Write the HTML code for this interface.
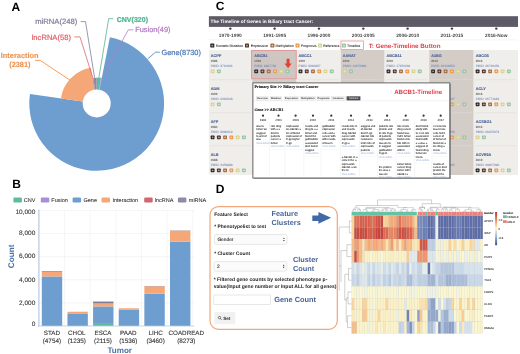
<!DOCTYPE html>
<html><head><meta charset="utf-8"><style>html,body{margin:0;padding:0;background:#fff;}svg{display:block;will-change:transform;}</style></head>
<body><svg width="520" height="354" viewBox="0 0 520 354" font-family="Liberation Sans, sans-serif" text-rendering="geometricPrecision">
<rect width="520" height="354" fill="#fff"/>
<text x="11.60" y="10.70" font-size="12" fill="#000" font-weight="bold" text-anchor="start" font-family="Liberation Sans" >A</text>
<text x="12.20" y="187.80" font-size="12" fill="#000" font-weight="bold" text-anchor="start" font-family="Liberation Sans" >B</text>
<text x="215.80" y="10.20" font-size="12" fill="#000" font-weight="bold" text-anchor="start" font-family="Liberation Sans" >C</text>
<text x="215.80" y="193.10" font-size="12" fill="#000" font-weight="bold" text-anchor="start" font-family="Liberation Sans" >D</text>
<path d="M96.70,103.40 L96.70,77.42 A25.98,25.98 0 0 1 101.11,77.80 Z" fill="#5dbb9f"/>
<path d="M96.70,103.40 L100.88,79.12 A24.64,24.64 0 0 1 101.52,79.23 Z" fill="#a98fd3"/>
<path d="M96.70,103.40 L109.87,37.30 A67.40,67.40 0 1 1 29.94,94.11 Z" fill="#6d9ecf"/>
<path d="M96.70,103.40 L60.92,98.42 A36.13,36.13 0 0 1 90.83,67.75 Z" fill="#f6a778"/>
<path d="M96.70,103.40 L92.69,79.04 A24.69,24.69 0 0 1 93.45,78.93 Z" fill="#d8636c"/>
<path d="M96.70,103.40 L93.32,78.00 A25.62,25.62 0 0 1 96.70,77.78 Z" fill="#8b89a6"/>
<circle cx="96.7" cy="103.4" r="14" fill="#fff"/>
<text x="35.20" y="23.50" font-size="7.65" fill="#7f7f9c" font-weight="normal" text-anchor="start" font-family="Liberation Sans" stroke="#7f7f9c" stroke-width="0.22">miRNA(248)</text>
<polyline points="80.70,21.60 85.50,21.60 94.60,77.80" stroke="#7f7f9c" stroke-width="0.8" fill="none"/>
<text x="31.70" y="39.70" font-size="7.6" fill="#e0636d" font-weight="normal" text-anchor="start" font-family="Liberation Sans" stroke="#e0636d" stroke-width="0.22">lncRNA(58)</text>
<polyline points="74.40,36.90 80.00,36.90 93.20,79.00" stroke="#e0636d" stroke-width="0.8" fill="none"/>
<text x="116.70" y="21.50" font-size="7.05" fill="#4fb58f" font-weight="bold" text-anchor="start" font-family="Liberation Sans" stroke="#4fb58f" stroke-width="0.22">CNV(320)</text>
<polyline points="113.30,18.70 108.70,18.70 98.90,77.60" stroke="#4fb58f" stroke-width="0.8" fill="none"/>
<text x="135.20" y="31.90" font-size="7.4" fill="#b57cc6" font-weight="normal" text-anchor="start" font-family="Liberation Sans" stroke="#b57cc6" stroke-width="0.22">Fusion(49)</text>
<polyline points="133.40,29.80 128.30,29.80 101.30,79.30" stroke="#b57cc6" stroke-width="0.8" fill="none"/>
<text x="161.50" y="55.30" font-size="7.4" fill="#4f7bb6" font-weight="normal" text-anchor="start" font-family="Liberation Sans" stroke="#4f7bb6" stroke-width="0.22">Gene(8730)</text>
<polyline points="159.80,52.20 155.50,52.20 147.80,58.80" stroke="#4f7bb6" stroke-width="0.8" fill="none"/>
<text x="0.80" y="58.10" font-size="7.4" fill="#f0944f" font-weight="bold" text-anchor="start" font-family="Liberation Sans" stroke="#f0944f" stroke-width="0.12">Interaction</text>
<text x="9.20" y="66.50" font-size="7.4" fill="#f0944f" font-weight="bold" text-anchor="start" font-family="Liberation Sans" stroke="#f0944f" stroke-width="0.12">(2381)</text>
<polyline points="35.00,60.40 40.30,60.40 70.50,80.50" stroke="#f0944f" stroke-width="0.9" fill="none"/>
<rect x="13.4" y="197.6" width="8.5" height="4.8" rx="1.2" fill="#5dbb9f"/>
<text x="23.80" y="202.20" font-size="5.5" fill="#333" font-weight="normal" text-anchor="start" font-family="Liberation Sans" stroke="#333" stroke-width="0.08">CNV</text>
<rect x="40.8" y="197.6" width="8.5" height="4.8" rx="1.2" fill="#a98fd3"/>
<text x="51.30" y="202.20" font-size="5.5" fill="#333" font-weight="normal" text-anchor="start" font-family="Liberation Sans" stroke="#333" stroke-width="0.08">Fusion</text>
<rect x="72.6" y="197.6" width="8.5" height="4.8" rx="1.2" fill="#6d9ecf"/>
<text x="83.50" y="202.20" font-size="5.5" fill="#333" font-weight="normal" text-anchor="start" font-family="Liberation Sans" stroke="#333" stroke-width="0.08">Gene</text>
<rect x="101.5" y="197.6" width="8.5" height="4.8" rx="1.2" fill="#f6a778"/>
<text x="112.50" y="202.20" font-size="5.5" fill="#333" font-weight="normal" text-anchor="start" font-family="Liberation Sans" stroke="#333" stroke-width="0.08">Interaction</text>
<rect x="144.2" y="197.6" width="8.5" height="4.8" rx="1.2" fill="#d0666e"/>
<text x="154.80" y="202.20" font-size="5.5" fill="#333" font-weight="normal" text-anchor="start" font-family="Liberation Sans" stroke="#333" stroke-width="0.08">lncRNA</text>
<rect x="177.9" y="197.6" width="8.5" height="4.8" rx="1.2" fill="#8c8ba8"/>
<text x="188.80" y="202.20" font-size="5.5" fill="#333" font-weight="normal" text-anchor="start" font-family="Liberation Sans" stroke="#333" stroke-width="0.08">miRNA</text>
<line x1="39.00" y1="302.90" x2="194.00" y2="302.90" stroke="#ececec" stroke-width="0.5" />
<line x1="39.00" y1="279.80" x2="194.00" y2="279.80" stroke="#ececec" stroke-width="0.5" />
<line x1="39.00" y1="256.70" x2="194.00" y2="256.70" stroke="#ececec" stroke-width="0.5" />
<line x1="39.00" y1="233.60" x2="194.00" y2="233.60" stroke="#ececec" stroke-width="0.5" />
<line x1="39.00" y1="210.50" x2="194.00" y2="210.50" stroke="#ececec" stroke-width="0.5" />
<line x1="64.54" y1="210.30" x2="64.54" y2="326.00" stroke="#ececec" stroke-width="0.5" />
<line x1="90.18" y1="210.30" x2="90.18" y2="326.00" stroke="#ececec" stroke-width="0.5" />
<line x1="115.82" y1="210.30" x2="115.82" y2="326.00" stroke="#ececec" stroke-width="0.5" />
<line x1="141.46" y1="210.30" x2="141.46" y2="326.00" stroke="#ececec" stroke-width="0.5" />
<line x1="167.10" y1="210.30" x2="167.10" y2="326.00" stroke="#ececec" stroke-width="0.5" />
<line x1="192.74" y1="210.30" x2="192.74" y2="326.00" stroke="#ececec" stroke-width="0.5" />
<rect x="41.80" y="276.45" width="20.40" height="49.55" fill="#6d9ecf" />
<rect x="41.80" y="272.00" width="20.40" height="4.45" fill="#f6a778" />
<rect x="41.80" y="271.66" width="20.40" height="0.35" fill="#c96068" />
<rect x="41.80" y="271.09" width="20.40" height="0.57" fill="#7d7891" />
<text x="51.90" y="335.20" font-size="6.25" fill="#333" font-weight="normal" text-anchor="middle" font-family="Liberation Sans" stroke="#333" stroke-width="0.1">STAD</text>
<text x="51.90" y="343.20" font-size="6.35" fill="#333" font-weight="normal" text-anchor="middle" font-family="Liberation Sans" stroke="#333" stroke-width="0.1">(4754)</text>
<rect x="67.44" y="313.93" width="20.40" height="12.07" fill="#6d9ecf" />
<rect x="67.44" y="311.74" width="20.40" height="2.19" fill="#f6a778" />
<text x="76.80" y="335.20" font-size="6.25" fill="#333" font-weight="normal" text-anchor="middle" font-family="Liberation Sans" stroke="#333" stroke-width="0.1">CHOL</text>
<text x="76.80" y="343.20" font-size="6.35" fill="#333" font-weight="normal" text-anchor="middle" font-family="Liberation Sans" stroke="#333" stroke-width="0.1">(1235)</text>
<rect x="93.08" y="323.92" width="20.40" height="2.08" fill="#5dbb9f" />
<rect x="93.08" y="306.42" width="20.40" height="17.50" fill="#6d9ecf" />
<rect x="93.08" y="303.42" width="20.40" height="3.00" fill="#f6a778" />
<rect x="93.08" y="302.96" width="20.40" height="0.46" fill="#c96068" />
<rect x="93.08" y="301.57" width="20.40" height="1.39" fill="#7d7891" />
<text x="103.00" y="335.20" font-size="6.25" fill="#333" font-weight="normal" text-anchor="middle" font-family="Liberation Sans" stroke="#333" stroke-width="0.1">ESCA</text>
<text x="103.00" y="343.20" font-size="6.35" fill="#333" font-weight="normal" text-anchor="middle" font-family="Liberation Sans" stroke="#333" stroke-width="0.1">(2115)</text>
<rect x="118.72" y="309.83" width="20.40" height="16.17" fill="#6d9ecf" />
<rect x="118.72" y="308.26" width="20.40" height="1.57" fill="#f6a778" />
<text x="128.30" y="335.20" font-size="6.25" fill="#333" font-weight="normal" text-anchor="middle" font-family="Liberation Sans" stroke="#333" stroke-width="0.1">PAAD</text>
<text x="128.30" y="343.20" font-size="6.35" fill="#333" font-weight="normal" text-anchor="middle" font-family="Liberation Sans" stroke="#333" stroke-width="0.1">(1536)</text>
<rect x="144.36" y="293.66" width="20.40" height="32.34" fill="#6d9ecf" />
<rect x="144.36" y="286.27" width="20.40" height="7.39" fill="#f6a778" />
<rect x="144.36" y="286.04" width="20.40" height="0.23" fill="#7d7891" />
<text x="155.60" y="335.20" font-size="6.25" fill="#333" font-weight="normal" text-anchor="middle" font-family="Liberation Sans" stroke="#333" stroke-width="0.1">LIHC</text>
<text x="155.60" y="343.20" font-size="6.35" fill="#333" font-weight="normal" text-anchor="middle" font-family="Liberation Sans" stroke="#333" stroke-width="0.1">(3460)</text>
<rect x="170.00" y="241.69" width="20.40" height="84.31" fill="#6d9ecf" />
<rect x="170.00" y="230.71" width="20.40" height="10.97" fill="#f6a778" />
<rect x="170.00" y="230.45" width="20.40" height="0.27" fill="#7d7891" />
<text x="186.30" y="335.20" font-size="6.25" fill="#333" font-weight="normal" text-anchor="middle" font-family="Liberation Sans" stroke="#333" stroke-width="0.1">COADREAD</text>
<text x="186.30" y="343.20" font-size="6.35" fill="#333" font-weight="normal" text-anchor="middle" font-family="Liberation Sans" stroke="#333" stroke-width="0.1">(8273)</text>
<line x1="38.90" y1="209.70" x2="38.90" y2="326.40" stroke="#b7c9e2" stroke-width="1.2" />
<line x1="38.30" y1="326.00" x2="194.00" y2="326.00" stroke="#b7c9e2" stroke-width="0.8" />
<text x="35.30" y="214.40" font-size="6.5" fill="#333" font-weight="normal" text-anchor="end" font-family="Liberation Sans" stroke="#333" stroke-width="0.1">10,000</text>
<text x="35.30" y="235.30" font-size="6.5" fill="#333" font-weight="normal" text-anchor="end" font-family="Liberation Sans" stroke="#333" stroke-width="0.1">8,000</text>
<text x="35.30" y="258.20" font-size="6.5" fill="#333" font-weight="normal" text-anchor="end" font-family="Liberation Sans" stroke="#333" stroke-width="0.1">6,000</text>
<text x="35.30" y="281.60" font-size="6.5" fill="#333" font-weight="normal" text-anchor="end" font-family="Liberation Sans" stroke="#333" stroke-width="0.1">4,000</text>
<text x="35.30" y="304.50" font-size="6.5" fill="#333" font-weight="normal" text-anchor="end" font-family="Liberation Sans" stroke="#333" stroke-width="0.1">2,000</text>
<text x="35.30" y="326.10" font-size="6.5" fill="#333" font-weight="normal" text-anchor="end" font-family="Liberation Sans" stroke="#333" stroke-width="0.1">0</text>
<text x="119.70" y="353.00" font-size="8.1" fill="#4a72a8" font-weight="bold" text-anchor="middle" font-family="Liberation Sans" >Tumor</text>
<text x="0" y="0" font-size="8.2" fill="#4a72a8" font-weight="bold" text-anchor="middle" font-family="Liberation Sans" transform="translate(14.1,256.4) rotate(-90)">Count</text>
<rect x="208.90" y="16.20" width="309.10" height="10.70" fill="#5e5a66" />
<text x="210.50" y="23.20" font-size="4.75" fill="#fff" font-weight="bold" text-anchor="start" font-family="Liberation Sans" >The Timeline of Genes in Biliary tract Cancer:</text>
<circle cx="230.30" cy="28.6" r="1.2" fill="#3d3a44"/>
<text x="230.30" y="36.90" font-size="4.8" fill="#484848" font-weight="bold" text-anchor="middle" font-family="Liberation Sans" >1970-1990</text>
<circle cx="274.63" cy="28.6" r="1.2" fill="#3d3a44"/>
<text x="274.63" y="36.90" font-size="4.8" fill="#484848" font-weight="bold" text-anchor="middle" font-family="Liberation Sans" >1991-1995</text>
<circle cx="318.96" cy="28.6" r="1.2" fill="#3d3a44"/>
<text x="318.96" y="36.90" font-size="4.8" fill="#484848" font-weight="bold" text-anchor="middle" font-family="Liberation Sans" >1996-2000</text>
<circle cx="363.29" cy="28.6" r="1.2" fill="#3d3a44"/>
<text x="363.29" y="36.90" font-size="4.8" fill="#484848" font-weight="bold" text-anchor="middle" font-family="Liberation Sans" >2001-2005</text>
<circle cx="407.62" cy="28.6" r="1.2" fill="#3d3a44"/>
<text x="407.62" y="36.90" font-size="4.8" fill="#484848" font-weight="bold" text-anchor="middle" font-family="Liberation Sans" >2006-2010</text>
<circle cx="451.95" cy="28.6" r="1.2" fill="#3d3a44"/>
<text x="451.95" y="36.90" font-size="4.8" fill="#484848" font-weight="bold" text-anchor="middle" font-family="Liberation Sans" >2011-2015</text>
<circle cx="496.28" cy="28.6" r="1.2" fill="#3d3a44"/>
<text x="496.28" y="36.90" font-size="4.8" fill="#484848" font-weight="bold" text-anchor="middle" font-family="Liberation Sans" >2016-Now</text>
<line x1="208.90" y1="39.90" x2="518.00" y2="39.90" stroke="#e4e2e0" stroke-width="0.4" />
<rect x="210.30" y="43.60" width="4.0" height="4.0" rx="0.7" fill="#2a2222"/>
<path d="M212.30,44.55 V46.65 M211.25,45.60 H213.35" stroke="#fff" stroke-width="0.55" opacity="0.75"/>
<text x="215.80" y="46.80" font-size="3.55" fill="#2a2a2a" font-weight="normal" text-anchor="start" font-family="Liberation Sans" stroke="#2a2a2a" stroke-width="0.05">Somatic Mutation</text>
<rect x="245.00" y="43.60" width="4.0" height="4.0" rx="0.7" fill="#55342e"/>
<path d="M247.00,44.55 V46.65 M245.95,45.60 H248.05" stroke="#fff" stroke-width="0.55" opacity="0.75"/>
<text x="250.80" y="46.80" font-size="3.55" fill="#2a2a2a" font-weight="normal" text-anchor="start" font-family="Liberation Sans" stroke="#2a2a2a" stroke-width="0.05">Expression</text>
<rect x="270.40" y="43.60" width="4.0" height="4.0" rx="0.7" fill="#a06c44"/>
<path d="M272.40,44.55 V46.65 M271.35,45.60 H273.45" stroke="#fff" stroke-width="0.55" opacity="0.75"/>
<text x="275.60" y="46.80" font-size="3.55" fill="#2a2a2a" font-weight="normal" text-anchor="start" font-family="Liberation Sans" stroke="#2a2a2a" stroke-width="0.05">Methylation</text>
<rect x="295.50" y="43.60" width="4.0" height="4.0" rx="0.7" fill="#e9984e"/>
<path d="M297.50,44.55 V46.65 M296.45,45.60 H298.55" stroke="#fff" stroke-width="0.55" opacity="0.75"/>
<text x="300.80" y="46.80" font-size="3.55" fill="#2a2a2a" font-weight="normal" text-anchor="start" font-family="Liberation Sans" stroke="#2a2a2a" stroke-width="0.05">Prognosis</text>
<rect x="318.00" y="43.60" width="4.0" height="4.0" rx="0.7" fill="#d6d292"/>
<path d="M320.00,44.55 V46.65 M318.95,45.60 H321.05" stroke="#fff" stroke-width="0.55" opacity="0.75"/>
<text x="323.00" y="46.80" font-size="3.55" fill="#2a2a2a" font-weight="normal" text-anchor="start" font-family="Liberation Sans" stroke="#2a2a2a" stroke-width="0.05">Reference</text>
<rect x="341.90" y="43.60" width="4.0" height="4.0" rx="0.7" fill="#98c4a2"/>
<path d="M343.90,44.55 V46.65 M342.85,45.60 H344.95" stroke="#fff" stroke-width="0.55" opacity="0.75"/>
<text x="347.00" y="46.80" font-size="3.55" fill="#2a2a2a" font-weight="normal" text-anchor="start" font-family="Liberation Sans" stroke="#2a2a2a" stroke-width="0.05">Timeline</text>
<rect x="340.9" y="41.0" width="22.5" height="8.5" fill="none" stroke="#e38f92" stroke-width="0.75"/>
<text x="368.70" y="47.50" font-size="6.25" fill="#e2404c" font-weight="bold" text-anchor="start" font-family="Liberation Sans" >T: Gene-Timeline Button</text>
<rect x="208.90" y="50.00" width="43.40" height="125.00" fill="#f0eeeb" />
<rect x="252.30" y="50.00" width="44.30" height="125.00" fill="#d3ccc7" />
<rect x="296.60" y="50.00" width="44.20" height="125.00" fill="#f0eeeb" />
<rect x="340.80" y="50.00" width="43.80" height="125.00" fill="#d3ccc7" />
<rect x="384.60" y="50.00" width="44.60" height="125.00" fill="#f0eeeb" />
<rect x="429.20" y="50.00" width="44.50" height="125.00" fill="#d3ccc7" />
<rect x="473.70" y="50.00" width="44.30" height="125.00" fill="#f0eeeb" />
<rect x="210.40" y="79.40" width="40.40" height="0.80" fill="#e4e1dd" />
<rect x="253.80" y="79.40" width="41.30" height="0.80" fill="#dcd6d2" />
<rect x="298.10" y="79.40" width="41.20" height="0.80" fill="#e4e1dd" />
<rect x="342.30" y="79.40" width="40.80" height="0.80" fill="#dcd6d2" />
<rect x="386.10" y="79.40" width="41.60" height="0.80" fill="#e4e1dd" />
<rect x="430.70" y="79.40" width="41.50" height="0.80" fill="#dcd6d2" />
<rect x="475.20" y="79.40" width="41.30" height="0.80" fill="#e4e1dd" />
<rect x="210.40" y="112.40" width="40.40" height="0.80" fill="#e4e1dd" />
<rect x="253.80" y="112.40" width="41.30" height="0.80" fill="#dcd6d2" />
<rect x="298.10" y="112.40" width="41.20" height="0.80" fill="#e4e1dd" />
<rect x="342.30" y="112.40" width="40.80" height="0.80" fill="#dcd6d2" />
<rect x="386.10" y="112.40" width="41.60" height="0.80" fill="#e4e1dd" />
<rect x="430.70" y="112.40" width="41.50" height="0.80" fill="#dcd6d2" />
<rect x="475.20" y="112.40" width="41.30" height="0.80" fill="#e4e1dd" />
<rect x="210.40" y="145.40" width="40.40" height="0.80" fill="#e4e1dd" />
<rect x="253.80" y="145.40" width="41.30" height="0.80" fill="#dcd6d2" />
<rect x="298.10" y="145.40" width="41.20" height="0.80" fill="#e4e1dd" />
<rect x="342.30" y="145.40" width="40.80" height="0.80" fill="#dcd6d2" />
<rect x="386.10" y="145.40" width="41.60" height="0.80" fill="#e4e1dd" />
<rect x="430.70" y="145.40" width="41.50" height="0.80" fill="#dcd6d2" />
<rect x="475.20" y="145.40" width="41.30" height="0.80" fill="#e4e1dd" />
<rect x="251.6" y="50.4" width="44.6" height="28.4" fill="#d0c6c1" stroke="#e39594" stroke-width="0.9"/>
<text x="210.70" y="56.80" font-size="3.8" fill="#4f6798" font-weight="bold" text-anchor="start" font-family="Liberation Sans" stroke="#4f6798" stroke-width="0.12">ACPP</text>
<text x="210.70" y="61.90" font-size="3.0" fill="#707070" font-weight="bold" text-anchor="start" font-family="Liberation Sans" stroke="#707070" stroke-width="0.08">1986</text>
<text x="210.70" y="67.30" font-size="3.15" fill="#7089bb" font-weight="normal" text-anchor="start" font-family="Liberation Sans" stroke="#7089bb" stroke-width="0.04">PMID: 3710994</text>
<rect x="210.70" y="69.50" width="3.8" height="3.8" rx="0.7" fill="#d6d292"/>
<path d="M212.60,70.45 V72.35 M211.65,71.40 H213.55" stroke="#fff" stroke-width="0.55" opacity="0.75"/>
<rect x="216.95" y="69.50" width="3.8" height="3.8" rx="0.7" fill="#98c4a2"/>
<path d="M218.85,70.45 V72.35 M217.90,71.40 H219.80" stroke="#fff" stroke-width="0.55" opacity="0.75"/>
<text x="254.30" y="56.80" font-size="3.8" fill="#4f6798" font-weight="bold" text-anchor="start" font-family="Liberation Sans" stroke="#4f6798" stroke-width="0.12">ABCB1</text>
<text x="254.30" y="61.90" font-size="3.0" fill="#707070" font-weight="bold" text-anchor="start" font-family="Liberation Sans" stroke="#707070" stroke-width="0.08">1993</text>
<text x="254.30" y="67.30" font-size="3.15" fill="#7089bb" font-weight="normal" text-anchor="start" font-family="Liberation Sans" stroke="#7089bb" stroke-width="0.04">PMID: 8387789</text>
<rect x="254.30" y="69.50" width="3.8" height="3.8" rx="0.7" fill="#2a2222"/>
<path d="M256.20,70.45 V72.35 M255.25,71.40 H257.15" stroke="#fff" stroke-width="0.55" opacity="0.75"/>
<rect x="260.55" y="69.50" width="3.8" height="3.8" rx="0.7" fill="#55342e"/>
<path d="M262.45,70.45 V72.35 M261.50,71.40 H263.40" stroke="#fff" stroke-width="0.55" opacity="0.75"/>
<rect x="266.80" y="69.50" width="3.8" height="3.8" rx="0.7" fill="#a06c44"/>
<path d="M268.70,70.45 V72.35 M267.75,71.40 H269.65" stroke="#fff" stroke-width="0.55" opacity="0.75"/>
<rect x="273.05" y="69.50" width="3.8" height="3.8" rx="0.7" fill="#e9984e"/>
<path d="M274.95,70.45 V72.35 M274.00,71.40 H275.90" stroke="#fff" stroke-width="0.55" opacity="0.75"/>
<rect x="279.30" y="69.50" width="3.8" height="3.8" rx="0.7" fill="#d6d292"/>
<path d="M281.20,70.45 V72.35 M280.25,71.40 H282.15" stroke="#fff" stroke-width="0.55" opacity="0.75"/>
<rect x="285.55" y="69.50" width="3.8" height="3.8" rx="0.7" fill="#98c4a2"/>
<path d="M287.45,70.45 V72.35 M286.50,71.40 H288.40" stroke="#fff" stroke-width="0.55" opacity="0.75"/>
<text x="298.60" y="56.80" font-size="3.8" fill="#4f6798" font-weight="bold" text-anchor="start" font-family="Liberation Sans" stroke="#4f6798" stroke-width="0.12">ABCC1</text>
<text x="298.60" y="61.90" font-size="3.0" fill="#707070" font-weight="bold" text-anchor="start" font-family="Liberation Sans" stroke="#707070" stroke-width="0.08">1997</text>
<text x="298.60" y="67.30" font-size="3.15" fill="#7089bb" font-weight="normal" text-anchor="start" font-family="Liberation Sans" stroke="#7089bb" stroke-width="0.04">PMID: 9040807</text>
<rect x="298.60" y="69.50" width="3.8" height="3.8" rx="0.7" fill="#2a2222"/>
<path d="M300.50,70.45 V72.35 M299.55,71.40 H301.45" stroke="#fff" stroke-width="0.55" opacity="0.75"/>
<rect x="304.85" y="69.50" width="3.8" height="3.8" rx="0.7" fill="#55342e"/>
<path d="M306.75,70.45 V72.35 M305.80,71.40 H307.70" stroke="#fff" stroke-width="0.55" opacity="0.75"/>
<rect x="311.10" y="69.50" width="3.8" height="3.8" rx="0.7" fill="#a06c44"/>
<path d="M313.00,70.45 V72.35 M312.05,71.40 H313.95" stroke="#fff" stroke-width="0.55" opacity="0.75"/>
<rect x="317.35" y="69.50" width="3.8" height="3.8" rx="0.7" fill="#e9984e"/>
<path d="M319.25,70.45 V72.35 M318.30,71.40 H320.20" stroke="#fff" stroke-width="0.55" opacity="0.75"/>
<rect x="323.60" y="69.50" width="3.8" height="3.8" rx="0.7" fill="#d6d292"/>
<path d="M325.50,70.45 V72.35 M324.55,71.40 H326.45" stroke="#fff" stroke-width="0.55" opacity="0.75"/>
<rect x="329.85" y="69.50" width="3.8" height="3.8" rx="0.7" fill="#98c4a2"/>
<path d="M331.75,70.45 V72.35 M330.80,71.40 H332.70" stroke="#fff" stroke-width="0.55" opacity="0.75"/>
<text x="342.80" y="56.80" font-size="3.8" fill="#4f6798" font-weight="bold" text-anchor="start" font-family="Liberation Sans" stroke="#4f6798" stroke-width="0.12">AANAT</text>
<text x="342.80" y="61.90" font-size="3.0" fill="#707070" font-weight="bold" text-anchor="start" font-family="Liberation Sans" stroke="#707070" stroke-width="0.08">2004</text>
<text x="342.80" y="67.30" font-size="3.15" fill="#7089bb" font-weight="normal" text-anchor="start" font-family="Liberation Sans" stroke="#7089bb" stroke-width="0.04">PMID: 14670336</text>
<rect x="342.80" y="69.50" width="3.8" height="3.8" rx="0.7" fill="#d6d292"/>
<path d="M344.70,70.45 V72.35 M343.75,71.40 H345.65" stroke="#fff" stroke-width="0.55" opacity="0.75"/>
<rect x="349.05" y="69.50" width="3.8" height="3.8" rx="0.7" fill="#98c4a2"/>
<path d="M350.95,70.45 V72.35 M350.00,71.40 H351.90" stroke="#fff" stroke-width="0.55" opacity="0.75"/>
<text x="386.60" y="56.80" font-size="3.8" fill="#4f6798" font-weight="bold" text-anchor="start" font-family="Liberation Sans" stroke="#4f6798" stroke-width="0.12">ABCB11</text>
<text x="386.60" y="61.90" font-size="3.0" fill="#707070" font-weight="bold" text-anchor="start" font-family="Liberation Sans" stroke="#707070" stroke-width="0.08">2007</text>
<text x="386.60" y="67.30" font-size="3.15" fill="#7089bb" font-weight="normal" text-anchor="start" font-family="Liberation Sans" stroke="#7089bb" stroke-width="0.04">PMID: 17452236</text>
<rect x="386.60" y="69.50" width="3.8" height="3.8" rx="0.7" fill="#2a2222"/>
<path d="M388.50,70.45 V72.35 M387.55,71.40 H389.45" stroke="#fff" stroke-width="0.55" opacity="0.75"/>
<rect x="392.85" y="69.50" width="3.8" height="3.8" rx="0.7" fill="#55342e"/>
<path d="M394.75,70.45 V72.35 M393.80,71.40 H395.70" stroke="#fff" stroke-width="0.55" opacity="0.75"/>
<rect x="399.10" y="69.50" width="3.8" height="3.8" rx="0.7" fill="#a06c44"/>
<path d="M401.00,70.45 V72.35 M400.05,71.40 H401.95" stroke="#fff" stroke-width="0.55" opacity="0.75"/>
<rect x="405.35" y="69.50" width="3.8" height="3.8" rx="0.7" fill="#e9984e"/>
<path d="M407.25,70.45 V72.35 M406.30,71.40 H408.20" stroke="#fff" stroke-width="0.55" opacity="0.75"/>
<rect x="411.60" y="69.50" width="3.8" height="3.8" rx="0.7" fill="#d6d292"/>
<path d="M413.50,70.45 V72.35 M412.55,71.40 H414.45" stroke="#fff" stroke-width="0.55" opacity="0.75"/>
<rect x="417.85" y="69.50" width="3.8" height="3.8" rx="0.7" fill="#98c4a2"/>
<path d="M419.75,70.45 V72.35 M418.80,71.40 H420.70" stroke="#fff" stroke-width="0.55" opacity="0.75"/>
<text x="431.20" y="56.80" font-size="3.8" fill="#4f6798" font-weight="bold" text-anchor="start" font-family="Liberation Sans" stroke="#4f6798" stroke-width="0.12">A1BG</text>
<text x="431.20" y="61.90" font-size="3.0" fill="#707070" font-weight="bold" text-anchor="start" font-family="Liberation Sans" stroke="#707070" stroke-width="0.08">2012</text>
<text x="431.20" y="67.30" font-size="3.15" fill="#7089bb" font-weight="normal" text-anchor="start" font-family="Liberation Sans" stroke="#7089bb" stroke-width="0.04">PMID: 22124950</text>
<rect x="431.20" y="69.50" width="3.8" height="3.8" rx="0.7" fill="#2a2222"/>
<path d="M433.10,70.45 V72.35 M432.15,71.40 H434.05" stroke="#fff" stroke-width="0.55" opacity="0.75"/>
<rect x="437.45" y="69.50" width="3.8" height="3.8" rx="0.7" fill="#55342e"/>
<path d="M439.35,70.45 V72.35 M438.40,71.40 H440.30" stroke="#fff" stroke-width="0.55" opacity="0.75"/>
<rect x="443.70" y="69.50" width="3.8" height="3.8" rx="0.7" fill="#a06c44"/>
<path d="M445.60,70.45 V72.35 M444.65,71.40 H446.55" stroke="#fff" stroke-width="0.55" opacity="0.75"/>
<rect x="449.95" y="69.50" width="3.8" height="3.8" rx="0.7" fill="#e9984e"/>
<path d="M451.85,70.45 V72.35 M450.90,71.40 H452.80" stroke="#fff" stroke-width="0.55" opacity="0.75"/>
<rect x="456.20" y="69.50" width="3.8" height="3.8" rx="0.7" fill="#d6d292"/>
<path d="M458.10,70.45 V72.35 M457.15,71.40 H459.05" stroke="#fff" stroke-width="0.55" opacity="0.75"/>
<rect x="462.45" y="69.50" width="3.8" height="3.8" rx="0.7" fill="#98c4a2"/>
<path d="M464.35,70.45 V72.35 M463.40,71.40 H465.30" stroke="#fff" stroke-width="0.55" opacity="0.75"/>
<text x="475.70" y="56.80" font-size="3.8" fill="#4f6798" font-weight="bold" text-anchor="start" font-family="Liberation Sans" stroke="#4f6798" stroke-width="0.12">ABCG5</text>
<text x="475.70" y="61.90" font-size="3.0" fill="#707070" font-weight="bold" text-anchor="start" font-family="Liberation Sans" stroke="#707070" stroke-width="0.08">2016</text>
<text x="475.70" y="67.30" font-size="3.15" fill="#7089bb" font-weight="normal" text-anchor="start" font-family="Liberation Sans" stroke="#7089bb" stroke-width="0.04">PMID: 26720456</text>
<rect x="475.70" y="69.50" width="3.8" height="3.8" rx="0.7" fill="#2a2222"/>
<path d="M477.60,70.45 V72.35 M476.65,71.40 H478.55" stroke="#fff" stroke-width="0.55" opacity="0.75"/>
<rect x="481.95" y="69.50" width="3.8" height="3.8" rx="0.7" fill="#55342e"/>
<path d="M483.85,70.45 V72.35 M482.90,71.40 H484.80" stroke="#fff" stroke-width="0.55" opacity="0.75"/>
<rect x="488.20" y="69.50" width="3.8" height="3.8" rx="0.7" fill="#a06c44"/>
<path d="M490.10,70.45 V72.35 M489.15,71.40 H491.05" stroke="#fff" stroke-width="0.55" opacity="0.75"/>
<rect x="494.45" y="69.50" width="3.8" height="3.8" rx="0.7" fill="#e9984e"/>
<path d="M496.35,70.45 V72.35 M495.40,71.40 H497.30" stroke="#fff" stroke-width="0.55" opacity="0.75"/>
<rect x="500.70" y="69.50" width="3.8" height="3.8" rx="0.7" fill="#d6d292"/>
<path d="M502.60,70.45 V72.35 M501.65,71.40 H503.55" stroke="#fff" stroke-width="0.55" opacity="0.75"/>
<rect x="506.95" y="69.50" width="3.8" height="3.8" rx="0.7" fill="#98c4a2"/>
<path d="M508.85,70.45 V72.35 M507.90,71.40 H509.80" stroke="#fff" stroke-width="0.55" opacity="0.75"/>
<text x="210.70" y="89.80" font-size="3.8" fill="#4f6798" font-weight="bold" text-anchor="start" font-family="Liberation Sans" stroke="#4f6798" stroke-width="0.12">ADM</text>
<text x="210.70" y="94.90" font-size="3.0" fill="#707070" font-weight="bold" text-anchor="start" font-family="Liberation Sans" stroke="#707070" stroke-width="0.08">1999</text>
<text x="210.70" y="100.30" font-size="3.15" fill="#7089bb" font-weight="normal" text-anchor="start" font-family="Liberation Sans" stroke="#7089bb" stroke-width="0.04">PMID: 2020943</text>
<rect x="210.70" y="102.50" width="3.8" height="3.8" rx="0.7" fill="#d6d292"/>
<path d="M212.60,103.45 V105.35 M211.65,104.40 H213.55" stroke="#fff" stroke-width="0.55" opacity="0.75"/>
<rect x="216.95" y="102.50" width="3.8" height="3.8" rx="0.7" fill="#98c4a2"/>
<path d="M218.85,103.45 V105.35 M217.90,104.40 H219.80" stroke="#fff" stroke-width="0.55" opacity="0.75"/>
<text x="431.20" y="89.80" font-size="3.8" fill="#4f6798" font-weight="bold" text-anchor="start" font-family="Liberation Sans" stroke="#4f6798" stroke-width="0.12">ACO1</text>
<text x="431.20" y="94.90" font-size="3.0" fill="#707070" font-weight="bold" text-anchor="start" font-family="Liberation Sans" stroke="#707070" stroke-width="0.08">2013</text>
<text x="431.20" y="100.30" font-size="3.15" fill="#7089bb" font-weight="normal" text-anchor="start" font-family="Liberation Sans" stroke="#7089bb" stroke-width="0.04">PMID: 23720947</text>
<rect x="431.20" y="102.50" width="3.8" height="3.8" rx="0.7" fill="#2a2222"/>
<path d="M433.10,103.45 V105.35 M432.15,104.40 H434.05" stroke="#fff" stroke-width="0.55" opacity="0.75"/>
<rect x="437.45" y="102.50" width="3.8" height="3.8" rx="0.7" fill="#55342e"/>
<path d="M439.35,103.45 V105.35 M438.40,104.40 H440.30" stroke="#fff" stroke-width="0.55" opacity="0.75"/>
<rect x="443.70" y="102.50" width="3.8" height="3.8" rx="0.7" fill="#a06c44"/>
<path d="M445.60,103.45 V105.35 M444.65,104.40 H446.55" stroke="#fff" stroke-width="0.55" opacity="0.75"/>
<rect x="449.95" y="102.50" width="3.8" height="3.8" rx="0.7" fill="#e9984e"/>
<path d="M451.85,103.45 V105.35 M450.90,104.40 H452.80" stroke="#fff" stroke-width="0.55" opacity="0.75"/>
<rect x="456.20" y="102.50" width="3.8" height="3.8" rx="0.7" fill="#d6d292"/>
<path d="M458.10,103.45 V105.35 M457.15,104.40 H459.05" stroke="#fff" stroke-width="0.55" opacity="0.75"/>
<rect x="462.45" y="102.50" width="3.8" height="3.8" rx="0.7" fill="#98c4a2"/>
<path d="M464.35,103.45 V105.35 M463.40,104.40 H465.30" stroke="#fff" stroke-width="0.55" opacity="0.75"/>
<text x="475.70" y="89.80" font-size="3.8" fill="#4f6798" font-weight="bold" text-anchor="start" font-family="Liberation Sans" stroke="#4f6798" stroke-width="0.12">ACLY</text>
<text x="475.70" y="94.90" font-size="3.0" fill="#707070" font-weight="bold" text-anchor="start" font-family="Liberation Sans" stroke="#707070" stroke-width="0.08">2016</text>
<text x="475.70" y="100.30" font-size="3.15" fill="#7089bb" font-weight="normal" text-anchor="start" font-family="Liberation Sans" stroke="#7089bb" stroke-width="0.04">PMID: 26771183</text>
<rect x="475.70" y="102.50" width="3.8" height="3.8" rx="0.7" fill="#2a2222"/>
<path d="M477.60,103.45 V105.35 M476.65,104.40 H478.55" stroke="#fff" stroke-width="0.55" opacity="0.75"/>
<rect x="481.95" y="102.50" width="3.8" height="3.8" rx="0.7" fill="#55342e"/>
<path d="M483.85,103.45 V105.35 M482.90,104.40 H484.80" stroke="#fff" stroke-width="0.55" opacity="0.75"/>
<rect x="488.20" y="102.50" width="3.8" height="3.8" rx="0.7" fill="#a06c44"/>
<path d="M490.10,103.45 V105.35 M489.15,104.40 H491.05" stroke="#fff" stroke-width="0.55" opacity="0.75"/>
<rect x="494.45" y="102.50" width="3.8" height="3.8" rx="0.7" fill="#e9984e"/>
<path d="M496.35,103.45 V105.35 M495.40,104.40 H497.30" stroke="#fff" stroke-width="0.55" opacity="0.75"/>
<rect x="500.70" y="102.50" width="3.8" height="3.8" rx="0.7" fill="#d6d292"/>
<path d="M502.60,103.45 V105.35 M501.65,104.40 H503.55" stroke="#fff" stroke-width="0.55" opacity="0.75"/>
<rect x="506.95" y="102.50" width="3.8" height="3.8" rx="0.7" fill="#98c4a2"/>
<path d="M508.85,103.45 V105.35 M507.90,104.40 H509.80" stroke="#fff" stroke-width="0.55" opacity="0.75"/>
<text x="210.70" y="122.80" font-size="3.8" fill="#4f6798" font-weight="bold" text-anchor="start" font-family="Liberation Sans" stroke="#4f6798" stroke-width="0.12">AFP</text>
<text x="210.70" y="127.90" font-size="3.0" fill="#707070" font-weight="bold" text-anchor="start" font-family="Liberation Sans" stroke="#707070" stroke-width="0.08">1984</text>
<text x="210.70" y="133.30" font-size="3.15" fill="#7089bb" font-weight="normal" text-anchor="start" font-family="Liberation Sans" stroke="#7089bb" stroke-width="0.04">PMID: 3090019</text>
<rect x="210.70" y="135.50" width="3.8" height="3.8" rx="0.7" fill="#2a2222"/>
<path d="M212.60,136.45 V138.35 M211.65,137.40 H213.55" stroke="#fff" stroke-width="0.55" opacity="0.75"/>
<rect x="216.95" y="135.50" width="3.8" height="3.8" rx="0.7" fill="#55342e"/>
<path d="M218.85,136.45 V138.35 M217.90,137.40 H219.80" stroke="#fff" stroke-width="0.55" opacity="0.75"/>
<rect x="223.20" y="135.50" width="3.8" height="3.8" rx="0.7" fill="#a06c44"/>
<path d="M225.10,136.45 V138.35 M224.15,137.40 H226.05" stroke="#fff" stroke-width="0.55" opacity="0.75"/>
<rect x="229.45" y="135.50" width="3.8" height="3.8" rx="0.7" fill="#e9984e"/>
<path d="M231.35,136.45 V138.35 M230.40,137.40 H232.30" stroke="#fff" stroke-width="0.55" opacity="0.75"/>
<rect x="235.70" y="135.50" width="3.8" height="3.8" rx="0.7" fill="#d6d292"/>
<path d="M237.60,136.45 V138.35 M236.65,137.40 H238.55" stroke="#fff" stroke-width="0.55" opacity="0.75"/>
<rect x="241.95" y="135.50" width="3.8" height="3.8" rx="0.7" fill="#98c4a2"/>
<path d="M243.85,136.45 V138.35 M242.90,137.40 H244.80" stroke="#fff" stroke-width="0.55" opacity="0.75"/>
<text x="431.20" y="122.80" font-size="3.8" fill="#4f6798" font-weight="bold" text-anchor="start" font-family="Liberation Sans" stroke="#4f6798" stroke-width="0.12">ACP1</text>
<text x="431.20" y="127.90" font-size="3.0" fill="#707070" font-weight="bold" text-anchor="start" font-family="Liberation Sans" stroke="#707070" stroke-width="0.08">2014</text>
<text x="431.20" y="133.30" font-size="3.15" fill="#7089bb" font-weight="normal" text-anchor="start" font-family="Liberation Sans" stroke="#7089bb" stroke-width="0.04">PMID: 24123456</text>
<rect x="431.20" y="135.50" width="3.8" height="3.8" rx="0.7" fill="#2a2222"/>
<path d="M433.10,136.45 V138.35 M432.15,137.40 H434.05" stroke="#fff" stroke-width="0.55" opacity="0.75"/>
<rect x="437.45" y="135.50" width="3.8" height="3.8" rx="0.7" fill="#55342e"/>
<path d="M439.35,136.45 V138.35 M438.40,137.40 H440.30" stroke="#fff" stroke-width="0.55" opacity="0.75"/>
<rect x="443.70" y="135.50" width="3.8" height="3.8" rx="0.7" fill="#a06c44"/>
<path d="M445.60,136.45 V138.35 M444.65,137.40 H446.55" stroke="#fff" stroke-width="0.55" opacity="0.75"/>
<rect x="449.95" y="135.50" width="3.8" height="3.8" rx="0.7" fill="#e9984e"/>
<path d="M451.85,136.45 V138.35 M450.90,137.40 H452.80" stroke="#fff" stroke-width="0.55" opacity="0.75"/>
<rect x="456.20" y="135.50" width="3.8" height="3.8" rx="0.7" fill="#d6d292"/>
<path d="M458.10,136.45 V138.35 M457.15,137.40 H459.05" stroke="#fff" stroke-width="0.55" opacity="0.75"/>
<rect x="462.45" y="135.50" width="3.8" height="3.8" rx="0.7" fill="#98c4a2"/>
<path d="M464.35,136.45 V138.35 M463.40,137.40 H465.30" stroke="#fff" stroke-width="0.55" opacity="0.75"/>
<text x="475.70" y="122.80" font-size="3.8" fill="#4f6798" font-weight="bold" text-anchor="start" font-family="Liberation Sans" stroke="#4f6798" stroke-width="0.12">ACSBG1</text>
<text x="475.70" y="127.90" font-size="3.0" fill="#707070" font-weight="bold" text-anchor="start" font-family="Liberation Sans" stroke="#707070" stroke-width="0.08">2016</text>
<text x="475.70" y="133.30" font-size="3.15" fill="#7089bb" font-weight="normal" text-anchor="start" font-family="Liberation Sans" stroke="#7089bb" stroke-width="0.04">PMID: 26876073</text>
<rect x="475.70" y="135.50" width="3.8" height="3.8" rx="0.7" fill="#d6d292"/>
<path d="M477.60,136.45 V138.35 M476.65,137.40 H478.55" stroke="#fff" stroke-width="0.55" opacity="0.75"/>
<rect x="481.95" y="135.50" width="3.8" height="3.8" rx="0.7" fill="#98c4a2"/>
<path d="M483.85,136.45 V138.35 M482.90,137.40 H484.80" stroke="#fff" stroke-width="0.55" opacity="0.75"/>
<text x="210.70" y="155.80" font-size="3.8" fill="#4f6798" font-weight="bold" text-anchor="start" font-family="Liberation Sans" stroke="#4f6798" stroke-width="0.12">ALB</text>
<text x="210.70" y="160.90" font-size="3.0" fill="#707070" font-weight="bold" text-anchor="start" font-family="Liberation Sans" stroke="#707070" stroke-width="0.08">1988</text>
<text x="210.70" y="166.30" font-size="3.15" fill="#7089bb" font-weight="normal" text-anchor="start" font-family="Liberation Sans" stroke="#7089bb" stroke-width="0.04">PMID: 2459888</text>
<rect x="210.70" y="168.50" width="3.8" height="3.8" rx="0.7" fill="#2a2222"/>
<path d="M212.60,169.45 V171.35 M211.65,170.40 H213.55" stroke="#fff" stroke-width="0.55" opacity="0.75"/>
<rect x="216.95" y="168.50" width="3.8" height="3.8" rx="0.7" fill="#55342e"/>
<path d="M218.85,169.45 V171.35 M217.90,170.40 H219.80" stroke="#fff" stroke-width="0.55" opacity="0.75"/>
<rect x="223.20" y="168.50" width="3.8" height="3.8" rx="0.7" fill="#a06c44"/>
<path d="M225.10,169.45 V171.35 M224.15,170.40 H226.05" stroke="#fff" stroke-width="0.55" opacity="0.75"/>
<rect x="229.45" y="168.50" width="3.8" height="3.8" rx="0.7" fill="#e9984e"/>
<path d="M231.35,169.45 V171.35 M230.40,170.40 H232.30" stroke="#fff" stroke-width="0.55" opacity="0.75"/>
<rect x="235.70" y="168.50" width="3.8" height="3.8" rx="0.7" fill="#d6d292"/>
<path d="M237.60,169.45 V171.35 M236.65,170.40 H238.55" stroke="#fff" stroke-width="0.55" opacity="0.75"/>
<rect x="241.95" y="168.50" width="3.8" height="3.8" rx="0.7" fill="#98c4a2"/>
<path d="M243.85,169.45 V171.35 M242.90,170.40 H244.80" stroke="#fff" stroke-width="0.55" opacity="0.75"/>
<text x="431.20" y="155.80" font-size="3.8" fill="#4f6798" font-weight="bold" text-anchor="start" font-family="Liberation Sans" stroke="#4f6798" stroke-width="0.12">ACTB</text>
<text x="431.20" y="160.90" font-size="3.0" fill="#707070" font-weight="bold" text-anchor="start" font-family="Liberation Sans" stroke="#707070" stroke-width="0.08">2015</text>
<text x="431.20" y="166.30" font-size="3.15" fill="#7089bb" font-weight="normal" text-anchor="start" font-family="Liberation Sans" stroke="#7089bb" stroke-width="0.04">PMID: 25123405</text>
<rect x="431.20" y="168.50" width="3.8" height="3.8" rx="0.7" fill="#2a2222"/>
<path d="M433.10,169.45 V171.35 M432.15,170.40 H434.05" stroke="#fff" stroke-width="0.55" opacity="0.75"/>
<rect x="437.45" y="168.50" width="3.8" height="3.8" rx="0.7" fill="#55342e"/>
<path d="M439.35,169.45 V171.35 M438.40,170.40 H440.30" stroke="#fff" stroke-width="0.55" opacity="0.75"/>
<rect x="443.70" y="168.50" width="3.8" height="3.8" rx="0.7" fill="#a06c44"/>
<path d="M445.60,169.45 V171.35 M444.65,170.40 H446.55" stroke="#fff" stroke-width="0.55" opacity="0.75"/>
<text x="475.70" y="155.80" font-size="3.8" fill="#4f6798" font-weight="bold" text-anchor="start" font-family="Liberation Sans" stroke="#4f6798" stroke-width="0.12">ACVR2A</text>
<text x="475.70" y="160.90" font-size="3.0" fill="#707070" font-weight="bold" text-anchor="start" font-family="Liberation Sans" stroke="#707070" stroke-width="0.08">2019</text>
<text x="475.70" y="166.30" font-size="3.15" fill="#7089bb" font-weight="normal" text-anchor="start" font-family="Liberation Sans" stroke="#7089bb" stroke-width="0.04">PMID: 28407080</text>
<rect x="475.70" y="168.50" width="3.8" height="3.8" rx="0.7" fill="#2a2222"/>
<path d="M477.60,169.45 V171.35 M476.65,170.40 H478.55" stroke="#fff" stroke-width="0.55" opacity="0.75"/>
<rect x="481.95" y="168.50" width="3.8" height="3.8" rx="0.7" fill="#55342e"/>
<path d="M483.85,169.45 V171.35 M482.90,170.40 H484.80" stroke="#fff" stroke-width="0.55" opacity="0.75"/>
<rect x="488.20" y="168.50" width="3.8" height="3.8" rx="0.7" fill="#a06c44"/>
<path d="M490.10,169.45 V171.35 M489.15,170.40 H491.05" stroke="#fff" stroke-width="0.55" opacity="0.75"/>
<rect x="494.45" y="168.50" width="3.8" height="3.8" rx="0.7" fill="#e9984e"/>
<path d="M496.35,169.45 V171.35 M495.40,170.40 H497.30" stroke="#fff" stroke-width="0.55" opacity="0.75"/>
<rect x="500.70" y="168.50" width="3.8" height="3.8" rx="0.7" fill="#d6d292"/>
<path d="M502.60,169.45 V171.35 M501.65,170.40 H503.55" stroke="#fff" stroke-width="0.55" opacity="0.75"/>
<rect x="506.95" y="168.50" width="3.8" height="3.8" rx="0.7" fill="#98c4a2"/>
<path d="M508.85,169.45 V171.35 M507.90,170.40 H509.80" stroke="#fff" stroke-width="0.55" opacity="0.75"/>
<path d="M286.6,58.8 L289.6,58.8 L289.6,63.4 L291.7,63.4 L288.1,68.2 L284.5,63.4 L286.6,63.4 Z" fill="#e8402f"/>
<rect x="253.6" y="84.0" width="197.4" height="95.0" fill="#6a6a6a" opacity="0.55"/>
<rect x="252.9" y="82.9" width="196.9" height="95.1" fill="#fff" stroke="#5a5a5a" stroke-width="0.9"/>
<text x="254.40" y="88.30" font-size="4.07" fill="#111" font-weight="bold" text-anchor="start" font-family="Liberation Serif" stroke="#111" stroke-width="0.12">Primary Site &gt;&gt; Biliary tract Cancer</text>
<rect x="256.3" y="96.6" width="12.00" height="3.6" fill="#f3f3f3" stroke="#d4d4d4" stroke-width="0.35"/>
<text x="262.30" y="99.30" font-size="2.4" fill="#333" font-weight="bold" text-anchor="middle" font-family="Liberation Sans" >Overview</text>
<rect x="270.2" y="96.6" width="11.50" height="3.6" fill="#f3f3f3" stroke="#d4d4d4" stroke-width="0.35"/>
<text x="275.95" y="99.30" font-size="2.4" fill="#333" font-weight="bold" text-anchor="middle" font-family="Liberation Sans" >Mutation</text>
<rect x="284.6" y="96.6" width="13.80" height="3.6" fill="#f3f3f3" stroke="#d4d4d4" stroke-width="0.35"/>
<text x="291.50" y="99.30" font-size="2.4" fill="#333" font-weight="bold" text-anchor="middle" font-family="Liberation Sans" >Expression</text>
<rect x="300.4" y="96.6" width="15.00" height="3.6" fill="#f3f3f3" stroke="#d4d4d4" stroke-width="0.35"/>
<text x="307.90" y="99.30" font-size="2.4" fill="#333" font-weight="bold" text-anchor="middle" font-family="Liberation Sans" >Methylation</text>
<rect x="317.0" y="96.6" width="12.80" height="3.6" fill="#f3f3f3" stroke="#d4d4d4" stroke-width="0.35"/>
<text x="323.40" y="99.30" font-size="2.4" fill="#333" font-weight="bold" text-anchor="middle" font-family="Liberation Sans" >Prognosis</text>
<rect x="331.2" y="96.6" width="14.00" height="3.6" fill="#f3f3f3" stroke="#d4d4d4" stroke-width="0.35"/>
<text x="338.20" y="99.30" font-size="2.4" fill="#333" font-weight="bold" text-anchor="middle" font-family="Liberation Sans" >Literature</text>
<rect x="346.6" y="96.3" width="13.8" height="4.2" fill="#4d4a52"/>
<text x="353.50" y="99.30" font-size="2.6" fill="#fff" font-weight="normal" text-anchor="middle" font-family="Liberation Sans" >Timeline</text>
<line x1="254.00" y1="100.80" x2="449.00" y2="100.80" stroke="#d8d8d8" stroke-width="0.35" />
<text x="394.20" y="94.40" font-size="6.14" fill="#e2404c" font-weight="bold" text-anchor="start" font-family="Liberation Sans" >ABCB1-Timeline</text>
<text x="254.40" y="111.20" font-size="4.07" fill="#111" font-weight="bold" text-anchor="start" font-family="Liberation Serif" stroke="#111" stroke-width="0.12">Gene &gt;&gt; ABCB1</text>
<circle cx="263" cy="115.7" r="1.1" fill="#333"/>
<text x="263.00" y="120.70" font-size="2.9" fill="#444" font-weight="bold" text-anchor="middle" font-family="Liberation Sans" >1993</text>
<circle cx="278.5" cy="115.7" r="1.1" fill="#333"/>
<text x="278.50" y="120.70" font-size="2.9" fill="#444" font-weight="bold" text-anchor="middle" font-family="Liberation Sans" >2004</text>
<circle cx="295.6" cy="115.7" r="1.1" fill="#333"/>
<text x="295.60" y="120.70" font-size="2.9" fill="#444" font-weight="bold" text-anchor="middle" font-family="Liberation Sans" >2009</text>
<circle cx="313" cy="115.7" r="1.1" fill="#333"/>
<text x="313.00" y="120.70" font-size="2.9" fill="#444" font-weight="bold" text-anchor="middle" font-family="Liberation Sans" >2010</text>
<circle cx="331.3" cy="115.7" r="1.1" fill="#333"/>
<text x="331.30" y="120.70" font-size="2.9" fill="#444" font-weight="bold" text-anchor="middle" font-family="Liberation Sans" >2011</text>
<circle cx="351" cy="115.7" r="1.1" fill="#333"/>
<text x="351.00" y="120.70" font-size="2.9" fill="#444" font-weight="bold" text-anchor="middle" font-family="Liberation Sans" >2012</text>
<circle cx="369.4" cy="115.7" r="1.1" fill="#333"/>
<text x="369.40" y="120.70" font-size="2.9" fill="#444" font-weight="bold" text-anchor="middle" font-family="Liberation Sans" >2013</text>
<circle cx="387.1" cy="115.7" r="1.1" fill="#333"/>
<text x="387.10" y="120.70" font-size="2.9" fill="#444" font-weight="bold" text-anchor="middle" font-family="Liberation Sans" >2014</text>
<circle cx="405.7" cy="115.7" r="1.1" fill="#333"/>
<text x="405.70" y="120.70" font-size="2.9" fill="#444" font-weight="bold" text-anchor="middle" font-family="Liberation Sans" >2015</text>
<circle cx="423.6" cy="115.7" r="1.1" fill="#333"/>
<text x="423.60" y="120.70" font-size="2.9" fill="#444" font-weight="bold" text-anchor="middle" font-family="Liberation Sans" >2016</text>
<circle cx="440.7" cy="115.7" r="1.1" fill="#333"/>
<text x="440.70" y="120.70" font-size="2.9" fill="#444" font-weight="bold" text-anchor="middle" font-family="Liberation Sans" >2017</text>
<line x1="269.60" y1="121.50" x2="269.60" y2="177.60" stroke="#e2e2e2" stroke-width="0.35" />
<line x1="284.90" y1="121.50" x2="284.90" y2="177.60" stroke="#e2e2e2" stroke-width="0.35" />
<line x1="303.90" y1="121.50" x2="303.90" y2="177.60" stroke="#e2e2e2" stroke-width="0.35" />
<line x1="321.00" y1="121.50" x2="321.00" y2="177.60" stroke="#e2e2e2" stroke-width="0.35" />
<line x1="340.60" y1="121.50" x2="340.60" y2="177.60" stroke="#e2e2e2" stroke-width="0.35" />
<line x1="359.60" y1="121.50" x2="359.60" y2="177.60" stroke="#e2e2e2" stroke-width="0.35" />
<line x1="377.70" y1="121.50" x2="377.70" y2="177.60" stroke="#e2e2e2" stroke-width="0.35" />
<line x1="396.00" y1="121.50" x2="396.00" y2="177.60" stroke="#e2e2e2" stroke-width="0.35" />
<line x1="414.60" y1="121.50" x2="414.60" y2="177.60" stroke="#e2e2e2" stroke-width="0.35" />
<line x1="431.90" y1="121.50" x2="431.90" y2="177.60" stroke="#e2e2e2" stroke-width="0.35" />
<text x="256.20" y="126.60" font-size="2.65" fill="#2a2a2a" font-weight="normal" text-anchor="start" font-family="Liberation Sans" stroke="#2a2a2a" stroke-width="0.06">was to</text>
<text x="256.20" y="130.05" font-size="2.65" fill="#2a2a2a" font-weight="normal" text-anchor="start" font-family="Liberation Sans" stroke="#2a2a2a" stroke-width="0.06">tumor we</text>
<text x="256.20" y="133.50" font-size="2.65" fill="#2a2a2a" font-weight="normal" text-anchor="start" font-family="Liberation Sans" stroke="#2a2a2a" stroke-width="0.06">suggest</text>
<text x="256.20" y="136.95" font-size="2.65" fill="#2a2a2a" font-weight="normal" text-anchor="start" font-family="Liberation Sans" stroke="#2a2a2a" stroke-width="0.06">to and of</text>
<text x="256.20" y="140.40" font-size="2.65" fill="#2a2a2a" font-weight="normal" text-anchor="start" font-family="Liberation Sans" stroke="#2a2a2a" stroke-width="0.06">was</text>
<text x="256.20" y="143.85" font-size="2.65" fill="#8aa6d0" font-weight="normal" text-anchor="start" font-family="Liberation Sans" >View Article</text>
<line x1="256.20" y1="146.05" x2="268.40" y2="146.05" stroke="#ececec" stroke-width="0.3" />
<text x="270.80" y="126.60" font-size="2.65" fill="#2a2a2a" font-weight="normal" text-anchor="start" font-family="Liberation Sans" stroke="#2a2a2a" stroke-width="0.06">role drug</text>
<text x="270.80" y="130.05" font-size="2.65" fill="#2a2a2a" font-weight="normal" text-anchor="start" font-family="Liberation Sans" stroke="#2a2a2a" stroke-width="0.06">with a a</text>
<text x="270.80" y="133.50" font-size="2.65" fill="#2a2a2a" font-weight="normal" text-anchor="start" font-family="Liberation Sans" stroke="#2a2a2a" stroke-width="0.06">duct to</text>
<text x="270.80" y="136.95" font-size="2.65" fill="#2a2a2a" font-weight="normal" text-anchor="start" font-family="Liberation Sans" stroke="#2a2a2a" stroke-width="0.06">patients</text>
<text x="270.80" y="140.40" font-size="2.65" fill="#2a2a2a" font-weight="normal" text-anchor="start" font-family="Liberation Sans" stroke="#2a2a2a" stroke-width="0.06">cancer a</text>
<text x="270.80" y="143.85" font-size="2.65" fill="#2a2a2a" font-weight="normal" text-anchor="start" font-family="Liberation Sans" stroke="#2a2a2a" stroke-width="0.06">tumor</text>
<text x="270.80" y="147.30" font-size="2.65" fill="#8aa6d0" font-weight="normal" text-anchor="start" font-family="Liberation Sans" >View Article</text>
<line x1="270.80" y1="149.50" x2="283.70" y2="149.50" stroke="#ececec" stroke-width="0.3" />
<text x="286.10" y="126.60" font-size="2.65" fill="#2a2a2a" font-weight="normal" text-anchor="start" font-family="Liberation Sans" stroke="#2a2a2a" stroke-width="0.06">expression</text>
<text x="286.10" y="130.05" font-size="2.65" fill="#2a2a2a" font-weight="normal" text-anchor="start" font-family="Liberation Sans" stroke="#2a2a2a" stroke-width="0.06">we ABCB1 a</text>
<text x="286.10" y="133.50" font-size="2.65" fill="#2a2a2a" font-weight="normal" text-anchor="start" font-family="Liberation Sans" stroke="#2a2a2a" stroke-width="0.06">we of found</text>
<text x="286.10" y="136.95" font-size="2.65" fill="#2a2a2a" font-weight="normal" text-anchor="start" font-family="Liberation Sans" stroke="#2a2a2a" stroke-width="0.06">expression of</text>
<text x="286.10" y="140.40" font-size="2.65" fill="#2a2a2a" font-weight="normal" text-anchor="start" font-family="Liberation Sans" stroke="#2a2a2a" stroke-width="0.06">P-gp higher</text>
<text x="286.10" y="143.85" font-size="2.65" fill="#2a2a2a" font-weight="normal" text-anchor="start" font-family="Liberation Sans" stroke="#2a2a2a" stroke-width="0.06">P-gp</text>
<text x="286.10" y="147.30" font-size="2.65" fill="#8aa6d0" font-weight="normal" text-anchor="start" font-family="Liberation Sans" >View Article</text>
<line x1="286.10" y1="149.50" x2="302.70" y2="149.50" stroke="#ececec" stroke-width="0.3" />
<text x="305.10" y="126.60" font-size="2.65" fill="#2a2a2a" font-weight="normal" text-anchor="start" font-family="Liberation Sans" stroke="#2a2a2a" stroke-width="0.06">results and</text>
<text x="305.10" y="130.05" font-size="2.65" fill="#2a2a2a" font-weight="normal" text-anchor="start" font-family="Liberation Sans" stroke="#2a2a2a" stroke-width="0.06">drug to a a</text>
<text x="305.10" y="133.50" font-size="2.65" fill="#2a2a2a" font-weight="normal" text-anchor="start" font-family="Liberation Sans" stroke="#2a2a2a" stroke-width="0.06">tumor and</text>
<text x="305.10" y="136.95" font-size="2.65" fill="#2a2a2a" font-weight="normal" text-anchor="start" font-family="Liberation Sans" stroke="#2a2a2a" stroke-width="0.06">found the</text>
<text x="305.10" y="140.40" font-size="2.65" fill="#2a2a2a" font-weight="normal" text-anchor="start" font-family="Liberation Sans" stroke="#2a2a2a" stroke-width="0.06">gallbladder</text>
<text x="305.10" y="143.85" font-size="2.65" fill="#2a2a2a" font-weight="normal" text-anchor="start" font-family="Liberation Sans" stroke="#2a2a2a" stroke-width="0.06">associated</text>
<text x="305.10" y="147.30" font-size="2.65" fill="#2a2a2a" font-weight="normal" text-anchor="start" font-family="Liberation Sans" stroke="#2a2a2a" stroke-width="0.06">duct found</text>
<text x="305.10" y="150.75" font-size="2.65" fill="#2a2a2a" font-weight="normal" text-anchor="start" font-family="Liberation Sans" stroke="#2a2a2a" stroke-width="0.06">suggest</text>
<text x="305.10" y="154.20" font-size="2.65" fill="#8aa6d0" font-weight="normal" text-anchor="start" font-family="Liberation Sans" >View Article</text>
<line x1="305.10" y1="156.40" x2="319.80" y2="156.40" stroke="#ececec" stroke-width="0.3" />
<text x="322.20" y="126.60" font-size="2.65" fill="#2a2a2a" font-weight="normal" text-anchor="start" font-family="Liberation Sans" stroke="#2a2a2a" stroke-width="0.06">gallbladder</text>
<text x="322.20" y="130.05" font-size="2.65" fill="#2a2a2a" font-weight="normal" text-anchor="start" font-family="Liberation Sans" stroke="#2a2a2a" stroke-width="0.06">expression</text>
<text x="322.20" y="133.50" font-size="2.65" fill="#2a2a2a" font-weight="normal" text-anchor="start" font-family="Liberation Sans" stroke="#2a2a2a" stroke-width="0.06">cells and a</text>
<text x="322.20" y="136.95" font-size="2.65" fill="#2a2a2a" font-weight="normal" text-anchor="start" font-family="Liberation Sans" stroke="#2a2a2a" stroke-width="0.06">cancer with</text>
<text x="322.20" y="140.40" font-size="2.65" fill="#2a2a2a" font-weight="normal" text-anchor="start" font-family="Liberation Sans" stroke="#2a2a2a" stroke-width="0.06">with results</text>
<text x="322.20" y="143.85" font-size="2.65" fill="#2a2a2a" font-weight="normal" text-anchor="start" font-family="Liberation Sans" stroke="#2a2a2a" stroke-width="0.06">of was in</text>
<text x="322.20" y="147.30" font-size="2.65" fill="#8aa6d0" font-weight="normal" text-anchor="start" font-family="Liberation Sans" >View Article</text>
<line x1="322.20" y1="149.50" x2="339.40" y2="149.50" stroke="#ececec" stroke-width="0.3" />
<text x="341.80" y="126.60" font-size="2.65" fill="#2a2a2a" font-weight="normal" text-anchor="start" font-family="Liberation Sans" stroke="#2a2a2a" stroke-width="0.06">results bile in</text>
<text x="341.80" y="130.05" font-size="2.65" fill="#2a2a2a" font-weight="normal" text-anchor="start" font-family="Liberation Sans" stroke="#2a2a2a" stroke-width="0.06">and results</text>
<text x="341.80" y="133.50" font-size="2.65" fill="#2a2a2a" font-weight="normal" text-anchor="start" font-family="Liberation Sans" stroke="#2a2a2a" stroke-width="0.06">drug ABCB1</text>
<text x="341.80" y="136.95" font-size="2.65" fill="#2a2a2a" font-weight="normal" text-anchor="start" font-family="Liberation Sans" stroke="#2a2a2a" stroke-width="0.06">cancer with</text>
<text x="341.80" y="140.40" font-size="2.65" fill="#2a2a2a" font-weight="normal" text-anchor="start" font-family="Liberation Sans" stroke="#2a2a2a" stroke-width="0.06">expression</text>
<text x="341.80" y="143.85" font-size="2.65" fill="#2a2a2a" font-weight="normal" text-anchor="start" font-family="Liberation Sans" stroke="#2a2a2a" stroke-width="0.06">P-gp a</text>
<text x="341.80" y="147.30" font-size="2.65" fill="#8aa6d0" font-weight="normal" text-anchor="start" font-family="Liberation Sans" >View Article</text>
<line x1="341.80" y1="149.50" x2="358.40" y2="149.50" stroke="#ececec" stroke-width="0.3" />
<text x="341.80" y="157.65" font-size="2.65" fill="#2a2a2a" font-weight="normal" text-anchor="start" font-family="Liberation Sans" stroke="#2a2a2a" stroke-width="0.06">a ABCB1 in a</text>
<text x="341.80" y="161.10" font-size="2.65" fill="#2a2a2a" font-weight="normal" text-anchor="start" font-family="Liberation Sans" stroke="#2a2a2a" stroke-width="0.06">cells in the a</text>
<text x="341.80" y="164.55" font-size="2.65" fill="#2a2a2a" font-weight="normal" text-anchor="start" font-family="Liberation Sans" stroke="#2a2a2a" stroke-width="0.06">expression</text>
<text x="341.80" y="168.00" font-size="2.65" fill="#2a2a2a" font-weight="normal" text-anchor="start" font-family="Liberation Sans" stroke="#2a2a2a" stroke-width="0.06">ABCB1 a we</text>
<text x="341.80" y="171.45" font-size="2.65" fill="#2a2a2a" font-weight="normal" text-anchor="start" font-family="Liberation Sans" stroke="#2a2a2a" stroke-width="0.06">the to</text>
<text x="341.80" y="174.90" font-size="2.65" fill="#8aa6d0" font-weight="normal" text-anchor="start" font-family="Liberation Sans" >View Article</text>
<text x="360.80" y="126.60" font-size="2.65" fill="#2a2a2a" font-weight="normal" text-anchor="start" font-family="Liberation Sans" stroke="#2a2a2a" stroke-width="0.06">suggest and</text>
<text x="360.80" y="130.05" font-size="2.65" fill="#2a2a2a" font-weight="normal" text-anchor="start" font-family="Liberation Sans" stroke="#2a2a2a" stroke-width="0.06">of ABCB1</text>
<text x="360.80" y="133.50" font-size="2.65" fill="#2a2a2a" font-weight="normal" text-anchor="start" font-family="Liberation Sans" stroke="#2a2a2a" stroke-width="0.06">duct P-gp</text>
<text x="360.80" y="136.95" font-size="2.65" fill="#2a2a2a" font-weight="normal" text-anchor="start" font-family="Liberation Sans" stroke="#2a2a2a" stroke-width="0.06">ABCB1 bile</text>
<text x="360.80" y="140.40" font-size="2.65" fill="#2a2a2a" font-weight="normal" text-anchor="start" font-family="Liberation Sans" stroke="#2a2a2a" stroke-width="0.06">resistance</text>
<text x="360.80" y="143.85" font-size="2.65" fill="#2a2a2a" font-weight="normal" text-anchor="start" font-family="Liberation Sans" stroke="#2a2a2a" stroke-width="0.06">mdr1 bile of</text>
<text x="360.80" y="147.30" font-size="2.65" fill="#2a2a2a" font-weight="normal" text-anchor="start" font-family="Liberation Sans" stroke="#2a2a2a" stroke-width="0.06">expression</text>
<text x="360.80" y="150.75" font-size="2.65" fill="#2a2a2a" font-weight="normal" text-anchor="start" font-family="Liberation Sans" stroke="#2a2a2a" stroke-width="0.06">patients</text>
<text x="360.80" y="154.20" font-size="2.65" fill="#8aa6d0" font-weight="normal" text-anchor="start" font-family="Liberation Sans" >View Article</text>
<line x1="360.80" y1="156.40" x2="376.50" y2="156.40" stroke="#ececec" stroke-width="0.3" />
<text x="378.90" y="126.60" font-size="2.65" fill="#2a2a2a" font-weight="normal" text-anchor="start" font-family="Liberation Sans" stroke="#2a2a2a" stroke-width="0.06">patients role</text>
<text x="378.90" y="130.05" font-size="2.65" fill="#2a2a2a" font-weight="normal" text-anchor="start" font-family="Liberation Sans" stroke="#2a2a2a" stroke-width="0.06">protein and</text>
<text x="378.90" y="133.50" font-size="2.65" fill="#2a2a2a" font-weight="normal" text-anchor="start" font-family="Liberation Sans" stroke="#2a2a2a" stroke-width="0.06">to role P-gp</text>
<text x="378.90" y="136.95" font-size="2.65" fill="#2a2a2a" font-weight="normal" text-anchor="start" font-family="Liberation Sans" stroke="#2a2a2a" stroke-width="0.06">of patients</text>
<text x="378.90" y="140.40" font-size="2.65" fill="#2a2a2a" font-weight="normal" text-anchor="start" font-family="Liberation Sans" stroke="#2a2a2a" stroke-width="0.06">expression</text>
<text x="378.90" y="143.85" font-size="2.65" fill="#2a2a2a" font-weight="normal" text-anchor="start" font-family="Liberation Sans" stroke="#2a2a2a" stroke-width="0.06">was we to</text>
<text x="378.90" y="147.30" font-size="2.65" fill="#2a2a2a" font-weight="normal" text-anchor="start" font-family="Liberation Sans" stroke="#2a2a2a" stroke-width="0.06">in suggest</text>
<text x="378.90" y="150.75" font-size="2.65" fill="#2a2a2a" font-weight="normal" text-anchor="start" font-family="Liberation Sans" stroke="#2a2a2a" stroke-width="0.06">gallbladder</text>
<text x="378.90" y="154.20" font-size="2.65" fill="#2a2a2a" font-weight="normal" text-anchor="start" font-family="Liberation Sans" stroke="#2a2a2a" stroke-width="0.06">P-gp in</text>
<text x="378.90" y="157.65" font-size="2.65" fill="#8aa6d0" font-weight="normal" text-anchor="start" font-family="Liberation Sans" >View Article</text>
<line x1="378.90" y1="159.85" x2="394.80" y2="159.85" stroke="#ececec" stroke-width="0.3" />
<text x="378.90" y="168.00" font-size="2.65" fill="#2a2a2a" font-weight="normal" text-anchor="start" font-family="Liberation Sans" stroke="#2a2a2a" stroke-width="0.06">the protein</text>
<text x="378.90" y="171.45" font-size="2.65" fill="#2a2a2a" font-weight="normal" text-anchor="start" font-family="Liberation Sans" stroke="#2a2a2a" stroke-width="0.06">the was a</text>
<text x="378.90" y="174.90" font-size="2.65" fill="#2a2a2a" font-weight="normal" text-anchor="start" font-family="Liberation Sans" stroke="#2a2a2a" stroke-width="0.06">was we</text>
<text x="378.90" y="178.35" font-size="2.65" fill="#8aa6d0" font-weight="normal" text-anchor="start" font-family="Liberation Sans" >View Article</text>
<text x="397.20" y="126.60" font-size="2.65" fill="#2a2a2a" font-weight="normal" text-anchor="start" font-family="Liberation Sans" stroke="#2a2a2a" stroke-width="0.06">role levels</text>
<text x="397.20" y="130.05" font-size="2.65" fill="#2a2a2a" font-weight="normal" text-anchor="start" font-family="Liberation Sans" stroke="#2a2a2a" stroke-width="0.06">drug cancer</text>
<text x="397.20" y="133.50" font-size="2.65" fill="#2a2a2a" font-weight="normal" text-anchor="start" font-family="Liberation Sans" stroke="#2a2a2a" stroke-width="0.06">found was</text>
<text x="397.20" y="136.95" font-size="2.65" fill="#2a2a2a" font-weight="normal" text-anchor="start" font-family="Liberation Sans" stroke="#2a2a2a" stroke-width="0.06">mdr1 tumor</text>
<text x="397.20" y="140.40" font-size="2.65" fill="#2a2a2a" font-weight="normal" text-anchor="start" font-family="Liberation Sans" stroke="#2a2a2a" stroke-width="0.06">found cells</text>
<text x="397.20" y="143.85" font-size="2.65" fill="#2a2a2a" font-weight="normal" text-anchor="start" font-family="Liberation Sans" stroke="#2a2a2a" stroke-width="0.06">bile with in</text>
<text x="397.20" y="147.30" font-size="2.65" fill="#2a2a2a" font-weight="normal" text-anchor="start" font-family="Liberation Sans" stroke="#2a2a2a" stroke-width="0.06">associated</text>
<text x="397.20" y="150.75" font-size="2.65" fill="#2a2a2a" font-weight="normal" text-anchor="start" font-family="Liberation Sans" stroke="#2a2a2a" stroke-width="0.06">with in</text>
<text x="397.20" y="154.20" font-size="2.65" fill="#8aa6d0" font-weight="normal" text-anchor="start" font-family="Liberation Sans" >View Article</text>
<line x1="397.20" y1="156.40" x2="413.40" y2="156.40" stroke="#ececec" stroke-width="0.3" />
<text x="397.20" y="164.55" font-size="2.65" fill="#2a2a2a" font-weight="normal" text-anchor="start" font-family="Liberation Sans" stroke="#2a2a2a" stroke-width="0.06">tumor tumor</text>
<text x="397.20" y="168.00" font-size="2.65" fill="#2a2a2a" font-weight="normal" text-anchor="start" font-family="Liberation Sans" stroke="#2a2a2a" stroke-width="0.06">cancer drug</text>
<text x="397.20" y="171.45" font-size="2.65" fill="#2a2a2a" font-weight="normal" text-anchor="start" font-family="Liberation Sans" stroke="#2a2a2a" stroke-width="0.06">tumor mdr1</text>
<text x="397.20" y="174.90" font-size="2.65" fill="#2a2a2a" font-weight="normal" text-anchor="start" font-family="Liberation Sans" stroke="#2a2a2a" stroke-width="0.06">ABCB1 a</text>
<text x="397.20" y="178.35" font-size="2.65" fill="#8aa6d0" font-weight="normal" text-anchor="start" font-family="Liberation Sans" >View Article</text>
<text x="415.80" y="126.60" font-size="2.65" fill="#2a2a2a" font-weight="normal" text-anchor="start" font-family="Liberation Sans" stroke="#2a2a2a" stroke-width="0.06">duct found</text>
<text x="415.80" y="130.05" font-size="2.65" fill="#2a2a2a" font-weight="normal" text-anchor="start" font-family="Liberation Sans" stroke="#2a2a2a" stroke-width="0.06">study with</text>
<text x="415.80" y="133.50" font-size="2.65" fill="#2a2a2a" font-weight="normal" text-anchor="start" font-family="Liberation Sans" stroke="#2a2a2a" stroke-width="0.06">to CCA role</text>
<text x="415.80" y="136.95" font-size="2.65" fill="#2a2a2a" font-weight="normal" text-anchor="start" font-family="Liberation Sans" stroke="#2a2a2a" stroke-width="0.06">associated</text>
<text x="415.80" y="140.40" font-size="2.65" fill="#2a2a2a" font-weight="normal" text-anchor="start" font-family="Liberation Sans" stroke="#2a2a2a" stroke-width="0.06">found with</text>
<text x="415.80" y="143.85" font-size="2.65" fill="#2a2a2a" font-weight="normal" text-anchor="start" font-family="Liberation Sans" stroke="#2a2a2a" stroke-width="0.06">a a was a</text>
<text x="415.80" y="147.30" font-size="2.65" fill="#2a2a2a" font-weight="normal" text-anchor="start" font-family="Liberation Sans" stroke="#2a2a2a" stroke-width="0.06">suggest of</text>
<text x="415.80" y="150.75" font-size="2.65" fill="#2a2a2a" font-weight="normal" text-anchor="start" font-family="Liberation Sans" stroke="#2a2a2a" stroke-width="0.06">found drug</text>
<text x="415.80" y="154.20" font-size="2.65" fill="#2a2a2a" font-weight="normal" text-anchor="start" font-family="Liberation Sans" stroke="#2a2a2a" stroke-width="0.06">tumor we</text>
<text x="415.80" y="157.65" font-size="2.65" fill="#2a2a2a" font-weight="normal" text-anchor="start" font-family="Liberation Sans" stroke="#2a2a2a" stroke-width="0.06">levels</text>
<text x="415.80" y="161.10" font-size="2.65" fill="#8aa6d0" font-weight="normal" text-anchor="start" font-family="Liberation Sans" >View Article</text>
<line x1="415.80" y1="163.30" x2="430.70" y2="163.30" stroke="#ececec" stroke-width="0.3" />
<text x="433.10" y="126.60" font-size="2.65" fill="#2a2a2a" font-weight="normal" text-anchor="start" font-family="Liberation Sans" stroke="#2a2a2a" stroke-width="0.06">CCA levels</text>
<text x="433.10" y="130.05" font-size="2.65" fill="#2a2a2a" font-weight="normal" text-anchor="start" font-family="Liberation Sans" stroke="#2a2a2a" stroke-width="0.06">was levels</text>
<text x="433.10" y="133.50" font-size="2.65" fill="#2a2a2a" font-weight="normal" text-anchor="start" font-family="Liberation Sans" stroke="#2a2a2a" stroke-width="0.06">cells mdr1</text>
<text x="433.10" y="136.95" font-size="2.65" fill="#2a2a2a" font-weight="normal" text-anchor="start" font-family="Liberation Sans" stroke="#2a2a2a" stroke-width="0.06">cancer of</text>
<text x="433.10" y="140.40" font-size="2.65" fill="#2a2a2a" font-weight="normal" text-anchor="start" font-family="Liberation Sans" stroke="#2a2a2a" stroke-width="0.06">of tumor of</text>
<text x="433.10" y="143.85" font-size="2.65" fill="#2a2a2a" font-weight="normal" text-anchor="start" font-family="Liberation Sans" stroke="#2a2a2a" stroke-width="0.06">found we a</text>
<text x="433.10" y="147.30" font-size="2.65" fill="#2a2a2a" font-weight="normal" text-anchor="start" font-family="Liberation Sans" stroke="#2a2a2a" stroke-width="0.06">we drug a</text>
<text x="433.10" y="150.75" font-size="2.65" fill="#2a2a2a" font-weight="normal" text-anchor="start" font-family="Liberation Sans" stroke="#2a2a2a" stroke-width="0.06">levels</text>
<text x="433.10" y="154.20" font-size="2.65" fill="#8aa6d0" font-weight="normal" text-anchor="start" font-family="Liberation Sans" >View Article</text>
<line x1="433.10" y1="156.40" x2="447.80" y2="156.40" stroke="#ececec" stroke-width="0.3" />
<text x="433.10" y="164.55" font-size="2.65" fill="#2a2a2a" font-weight="normal" text-anchor="start" font-family="Liberation Sans" stroke="#2a2a2a" stroke-width="0.06">results of</text>
<text x="433.10" y="168.00" font-size="2.65" fill="#2a2a2a" font-weight="normal" text-anchor="start" font-family="Liberation Sans" stroke="#2a2a2a" stroke-width="0.06">cancer duct</text>
<text x="433.10" y="171.45" font-size="2.65" fill="#2a2a2a" font-weight="normal" text-anchor="start" font-family="Liberation Sans" stroke="#2a2a2a" stroke-width="0.06">protein the</text>
<text x="433.10" y="174.90" font-size="2.65" fill="#2a2a2a" font-weight="normal" text-anchor="start" font-family="Liberation Sans" stroke="#2a2a2a" stroke-width="0.06">found the</text>
<text x="433.10" y="178.35" font-size="2.65" fill="#8aa6d0" font-weight="normal" text-anchor="start" font-family="Liberation Sans" >View Article</text>
<rect x="210.0" y="206.6" width="127.3" height="122.7" rx="8.5" fill="#fff" stroke="#f2a67b" stroke-width="1.2"/>
<text x="214.20" y="216.30" font-size="4.94" fill="#222" font-weight="bold" text-anchor="start" font-family="Liberation Sans" >Feature Select</text>
<text x="214.20" y="228.00" font-size="4.95" fill="#222" font-weight="bold" text-anchor="start" font-family="Liberation Sans" >* Phenotypelist to test</text>
<rect x="214.4" y="234.5" width="72.7" height="9.9" rx="2" fill="#fbfbfb" stroke="#d2d2d2" stroke-width="0.5"/>
<text x="217.40" y="241.15" font-size="4.8" fill="#222" font-weight="normal" text-anchor="start" font-family="Liberation Sans" stroke="#222" stroke-width="0.08">Gender</text>
<path d="M283.00,238.95 L283.90,237.65 L284.80,238.95 Z M283.00,239.95 L283.90,241.25 L284.80,239.95 Z" fill="#333"/>
<text x="214.20" y="254.70" font-size="4.95" fill="#222" font-weight="bold" text-anchor="start" font-family="Liberation Sans" >* Cluster Count</text>
<rect x="213.9" y="261.5" width="73.0" height="9.7" rx="2" fill="#fbfbfb" stroke="#d2d2d2" stroke-width="0.5"/>
<text x="216.90" y="268.05" font-size="4.8" fill="#222" font-weight="normal" text-anchor="start" font-family="Liberation Sans" stroke="#222" stroke-width="0.08">2</text>
<path d="M282.80,265.85 L283.70,264.55 L284.60,265.85 Z M282.80,266.85 L283.70,268.15 L284.60,266.85 Z" fill="#333"/>
<text x="213.70" y="281.20" font-size="5.0" fill="#222" font-weight="bold" text-anchor="start" font-family="Liberation Sans" >* Filtered gene counts by selected phenotype p-</text>
<text x="213.70" y="288.00" font-size="5.0" fill="#222" font-weight="bold" text-anchor="start" font-family="Liberation Sans" >value(Input gene number or Input ALL for all genes)</text>
<rect x="213.9" y="295.0" width="56.5" height="9.4" fill="#fff" stroke="#d0d0d0" stroke-width="0.5"/>
<text x="274.20" y="301.80" font-size="7.4" fill="#4a6599" font-weight="bold" text-anchor="start" font-family="Liberation Sans" >Gene Count</text>
<text x="271.50" y="216.30" font-size="7.33" fill="#4a6599" font-weight="bold" text-anchor="start" font-family="Liberation Sans" >Feature</text>
<text x="271.50" y="224.90" font-size="7.3" fill="#4a6599" font-weight="bold" text-anchor="start" font-family="Liberation Sans" >Clusters</text>
<text x="292.90" y="262.40" font-size="7.35" fill="#4a6599" font-weight="bold" text-anchor="start" font-family="Liberation Sans" >Cluster</text>
<text x="292.90" y="271.20" font-size="7.35" fill="#4a6599" font-weight="bold" text-anchor="start" font-family="Liberation Sans" >Count</text>
<path d="M312.3,215.4 L318.4,215.4 L318.4,211.9 L331.1,217.85 L318.4,223.8 L318.4,220.9 L312.3,220.9 Z" fill="#4069a6"/>
<rect x="214.4" y="312.1" width="20.9" height="12.1" rx="1.5" fill="#f1f1f1"/>
<circle cx="219.5" cy="317.6" r="1.2" fill="none" stroke="#333" stroke-width="0.6"/><line x1="220.3" y1="318.5" x2="221.6" y2="319.8" stroke="#333" stroke-width="0.7"/>
<text x="223.20" y="320.20" font-size="4.6" fill="#333" font-weight="bold" text-anchor="start" font-family="Liberation Sans" >Set</text>
<rect x="351.60" y="215.40" width="2.67" height="11.82" fill="#f9d49b" stroke="#b0b0b0" stroke-width="0.1"/>
<rect x="354.22" y="215.40" width="2.67" height="11.82" fill="#de6e54" stroke="#b0b0b0" stroke-width="0.1"/>
<rect x="356.85" y="215.40" width="2.67" height="11.82" fill="#de6e54" stroke="#b0b0b0" stroke-width="0.1"/>
<rect x="359.47" y="215.40" width="2.67" height="11.82" fill="#d75f4b" stroke="#b0b0b0" stroke-width="0.1"/>
<rect x="362.10" y="215.40" width="2.67" height="11.82" fill="#d75f4b" stroke="#b0b0b0" stroke-width="0.1"/>
<rect x="364.72" y="215.40" width="2.67" height="11.82" fill="#d75f4b" stroke="#b0b0b0" stroke-width="0.1"/>
<rect x="367.34" y="215.40" width="2.67" height="11.82" fill="#d75f4b" stroke="#b0b0b0" stroke-width="0.1"/>
<rect x="369.97" y="215.40" width="2.67" height="11.82" fill="#de6e54" stroke="#b0b0b0" stroke-width="0.1"/>
<rect x="372.59" y="215.40" width="2.67" height="11.82" fill="#de6e54" stroke="#b0b0b0" stroke-width="0.1"/>
<rect x="375.22" y="215.40" width="2.67" height="11.82" fill="#d05544" stroke="#b0b0b0" stroke-width="0.1"/>
<rect x="377.84" y="215.40" width="2.67" height="11.82" fill="#d05544" stroke="#b0b0b0" stroke-width="0.1"/>
<rect x="380.46" y="215.40" width="2.67" height="11.82" fill="#ca4a3d" stroke="#b0b0b0" stroke-width="0.1"/>
<rect x="383.09" y="215.40" width="2.67" height="11.82" fill="#f9d49b" stroke="#b0b0b0" stroke-width="0.1"/>
<rect x="385.71" y="215.40" width="2.67" height="11.82" fill="#f8cc94" stroke="#b0b0b0" stroke-width="0.1"/>
<rect x="388.34" y="215.40" width="2.67" height="11.82" fill="#f5b480" stroke="#b0b0b0" stroke-width="0.1"/>
<rect x="390.96" y="215.40" width="2.67" height="11.82" fill="#f3aa7a" stroke="#b0b0b0" stroke-width="0.1"/>
<rect x="393.58" y="215.40" width="2.67" height="11.82" fill="#f3aa7a" stroke="#b0b0b0" stroke-width="0.1"/>
<rect x="396.21" y="215.40" width="2.67" height="11.82" fill="#ed9069" stroke="#b0b0b0" stroke-width="0.1"/>
<rect x="398.83" y="215.40" width="2.67" height="11.82" fill="#e17458" stroke="#b0b0b0" stroke-width="0.1"/>
<rect x="401.46" y="215.40" width="2.67" height="11.82" fill="#ed9069" stroke="#b0b0b0" stroke-width="0.1"/>
<rect x="404.08" y="215.40" width="2.67" height="11.82" fill="#ec8c66" stroke="#b0b0b0" stroke-width="0.1"/>
<rect x="406.70" y="215.40" width="2.67" height="11.82" fill="#ee946b" stroke="#b0b0b0" stroke-width="0.1"/>
<rect x="409.33" y="215.40" width="2.67" height="11.82" fill="#ee946b" stroke="#b0b0b0" stroke-width="0.1"/>
<rect x="411.95" y="215.40" width="2.67" height="11.82" fill="#f5b480" stroke="#b0b0b0" stroke-width="0.1"/>
<rect x="414.58" y="215.40" width="2.67" height="11.82" fill="#f9d49b" stroke="#b0b0b0" stroke-width="0.1"/>
<rect x="417.20" y="215.40" width="2.67" height="11.82" fill="#788bbc" stroke="#b0b0b0" stroke-width="0.1"/>
<rect x="419.82" y="215.40" width="2.67" height="11.82" fill="#788bbc" stroke="#b0b0b0" stroke-width="0.1"/>
<rect x="422.45" y="215.40" width="2.67" height="11.82" fill="#7083b7" stroke="#b0b0b0" stroke-width="0.1"/>
<rect x="425.07" y="215.40" width="2.67" height="11.82" fill="#7083b7" stroke="#b0b0b0" stroke-width="0.1"/>
<rect x="427.70" y="215.40" width="2.67" height="11.82" fill="#5d6ca7" stroke="#b0b0b0" stroke-width="0.1"/>
<rect x="430.32" y="215.40" width="2.67" height="11.82" fill="#5d6ca7" stroke="#b0b0b0" stroke-width="0.1"/>
<rect x="432.94" y="215.40" width="2.67" height="11.82" fill="#7083b7" stroke="#b0b0b0" stroke-width="0.1"/>
<rect x="435.57" y="215.40" width="2.67" height="11.82" fill="#e8f0ec" stroke="#b0b0b0" stroke-width="0.1"/>
<rect x="438.19" y="215.40" width="2.67" height="11.82" fill="#5d6ca7" stroke="#b0b0b0" stroke-width="0.1"/>
<rect x="440.82" y="215.40" width="2.67" height="11.82" fill="#5d6ca7" stroke="#b0b0b0" stroke-width="0.1"/>
<rect x="443.44" y="215.40" width="2.67" height="11.82" fill="#5d6ca7" stroke="#b0b0b0" stroke-width="0.1"/>
<rect x="446.06" y="215.40" width="2.67" height="11.82" fill="#5d6ca7" stroke="#b0b0b0" stroke-width="0.1"/>
<rect x="448.69" y="215.40" width="2.67" height="11.82" fill="#5d6ca7" stroke="#b0b0b0" stroke-width="0.1"/>
<rect x="451.31" y="215.40" width="2.67" height="11.82" fill="#5d6ca7" stroke="#b0b0b0" stroke-width="0.1"/>
<rect x="453.94" y="215.40" width="2.67" height="11.82" fill="#6b7db3" stroke="#b0b0b0" stroke-width="0.1"/>
<rect x="456.56" y="215.40" width="2.67" height="11.82" fill="#6b7db3" stroke="#b0b0b0" stroke-width="0.1"/>
<rect x="459.18" y="215.40" width="2.67" height="11.82" fill="#6b7db3" stroke="#b0b0b0" stroke-width="0.1"/>
<rect x="461.81" y="215.40" width="2.67" height="11.82" fill="#5f6fa9" stroke="#b0b0b0" stroke-width="0.1"/>
<rect x="464.43" y="215.40" width="2.67" height="11.82" fill="#5f6fa9" stroke="#b0b0b0" stroke-width="0.1"/>
<rect x="467.06" y="215.40" width="2.67" height="11.82" fill="#5f6fa9" stroke="#b0b0b0" stroke-width="0.1"/>
<rect x="469.68" y="215.40" width="2.67" height="11.82" fill="#5f6fa9" stroke="#b0b0b0" stroke-width="0.1"/>
<rect x="472.30" y="215.40" width="2.67" height="11.82" fill="#5f6fa9" stroke="#b0b0b0" stroke-width="0.1"/>
<rect x="474.93" y="215.40" width="2.67" height="11.82" fill="#5f6fa9" stroke="#b0b0b0" stroke-width="0.1"/>
<rect x="477.55" y="215.40" width="2.67" height="11.82" fill="#5f6fa9" stroke="#b0b0b0" stroke-width="0.1"/>
<rect x="480.18" y="215.40" width="2.67" height="11.82" fill="#5f6fa9" stroke="#b0b0b0" stroke-width="0.1"/>
<rect x="351.60" y="227.22" width="2.67" height="11.82" fill="#f9d49b" stroke="#b0b0b0" stroke-width="0.1"/>
<rect x="354.22" y="227.22" width="2.67" height="11.82" fill="#ca4a3d" stroke="#b0b0b0" stroke-width="0.1"/>
<rect x="356.85" y="227.22" width="2.67" height="11.82" fill="#ca4a3d" stroke="#b0b0b0" stroke-width="0.1"/>
<rect x="359.47" y="227.22" width="2.67" height="11.82" fill="#ca4a3d" stroke="#b0b0b0" stroke-width="0.1"/>
<rect x="362.10" y="227.22" width="2.67" height="11.82" fill="#ca4a3d" stroke="#b0b0b0" stroke-width="0.1"/>
<rect x="364.72" y="227.22" width="2.67" height="11.82" fill="#ca4a3d" stroke="#b0b0b0" stroke-width="0.1"/>
<rect x="367.34" y="227.22" width="2.67" height="11.82" fill="#d65d4a" stroke="#b0b0b0" stroke-width="0.1"/>
<rect x="369.97" y="227.22" width="2.67" height="11.82" fill="#d65d4a" stroke="#b0b0b0" stroke-width="0.1"/>
<rect x="372.59" y="227.22" width="2.67" height="11.82" fill="#d65d4a" stroke="#b0b0b0" stroke-width="0.1"/>
<rect x="375.22" y="227.22" width="2.67" height="11.82" fill="#c64439" stroke="#b0b0b0" stroke-width="0.1"/>
<rect x="377.84" y="227.22" width="2.67" height="11.82" fill="#c64439" stroke="#b0b0b0" stroke-width="0.1"/>
<rect x="380.46" y="227.22" width="2.67" height="11.82" fill="#c64439" stroke="#b0b0b0" stroke-width="0.1"/>
<rect x="383.09" y="227.22" width="2.67" height="11.82" fill="#db6850" stroke="#b0b0b0" stroke-width="0.1"/>
<rect x="385.71" y="227.22" width="2.67" height="11.82" fill="#db6850" stroke="#b0b0b0" stroke-width="0.1"/>
<rect x="388.34" y="227.22" width="2.67" height="11.82" fill="#e98662" stroke="#b0b0b0" stroke-width="0.1"/>
<rect x="390.96" y="227.22" width="2.67" height="11.82" fill="#e98662" stroke="#b0b0b0" stroke-width="0.1"/>
<rect x="393.58" y="227.22" width="2.67" height="11.82" fill="#e98662" stroke="#b0b0b0" stroke-width="0.1"/>
<rect x="396.21" y="227.22" width="2.67" height="11.82" fill="#db6850" stroke="#b0b0b0" stroke-width="0.1"/>
<rect x="398.83" y="227.22" width="2.67" height="11.82" fill="#ce5141" stroke="#b0b0b0" stroke-width="0.1"/>
<rect x="401.46" y="227.22" width="2.67" height="11.82" fill="#ce5141" stroke="#b0b0b0" stroke-width="0.1"/>
<rect x="404.08" y="227.22" width="2.67" height="11.82" fill="#ce5141" stroke="#b0b0b0" stroke-width="0.1"/>
<rect x="406.70" y="227.22" width="2.67" height="11.82" fill="#d75f4b" stroke="#b0b0b0" stroke-width="0.1"/>
<rect x="409.33" y="227.22" width="2.67" height="11.82" fill="#d75f4b" stroke="#b0b0b0" stroke-width="0.1"/>
<rect x="411.95" y="227.22" width="2.67" height="11.82" fill="#ec8c66" stroke="#b0b0b0" stroke-width="0.1"/>
<rect x="414.58" y="227.22" width="2.67" height="11.82" fill="#f6bc87" stroke="#b0b0b0" stroke-width="0.1"/>
<rect x="417.20" y="227.22" width="2.67" height="11.82" fill="#7487b9" stroke="#b0b0b0" stroke-width="0.1"/>
<rect x="419.82" y="227.22" width="2.67" height="11.82" fill="#7487b9" stroke="#b0b0b0" stroke-width="0.1"/>
<rect x="422.45" y="227.22" width="2.67" height="11.82" fill="#6b7db3" stroke="#b0b0b0" stroke-width="0.1"/>
<rect x="425.07" y="227.22" width="2.67" height="11.82" fill="#6b7db3" stroke="#b0b0b0" stroke-width="0.1"/>
<rect x="427.70" y="227.22" width="2.67" height="11.82" fill="#5b6aa5" stroke="#b0b0b0" stroke-width="0.1"/>
<rect x="430.32" y="227.22" width="2.67" height="11.82" fill="#5b6aa5" stroke="#b0b0b0" stroke-width="0.1"/>
<rect x="432.94" y="227.22" width="2.67" height="11.82" fill="#6b7db3" stroke="#b0b0b0" stroke-width="0.1"/>
<rect x="435.57" y="227.22" width="2.67" height="11.82" fill="#e8f0ec" stroke="#b0b0b0" stroke-width="0.1"/>
<rect x="438.19" y="227.22" width="2.67" height="11.82" fill="#5d6ca7" stroke="#b0b0b0" stroke-width="0.1"/>
<rect x="440.82" y="227.22" width="2.67" height="11.82" fill="#5d6ca7" stroke="#b0b0b0" stroke-width="0.1"/>
<rect x="443.44" y="227.22" width="2.67" height="11.82" fill="#5d6ca7" stroke="#b0b0b0" stroke-width="0.1"/>
<rect x="446.06" y="227.22" width="2.67" height="11.82" fill="#5d6ca7" stroke="#b0b0b0" stroke-width="0.1"/>
<rect x="448.69" y="227.22" width="2.67" height="11.82" fill="#5d6ca7" stroke="#b0b0b0" stroke-width="0.1"/>
<rect x="451.31" y="227.22" width="2.67" height="11.82" fill="#5d6ca7" stroke="#b0b0b0" stroke-width="0.1"/>
<rect x="453.94" y="227.22" width="2.67" height="11.82" fill="#6779b0" stroke="#b0b0b0" stroke-width="0.1"/>
<rect x="456.56" y="227.22" width="2.67" height="11.82" fill="#6779b0" stroke="#b0b0b0" stroke-width="0.1"/>
<rect x="459.18" y="227.22" width="2.67" height="11.82" fill="#6779b0" stroke="#b0b0b0" stroke-width="0.1"/>
<rect x="461.81" y="227.22" width="2.67" height="11.82" fill="#5d6ca7" stroke="#b0b0b0" stroke-width="0.1"/>
<rect x="464.43" y="227.22" width="2.67" height="11.82" fill="#5d6ca7" stroke="#b0b0b0" stroke-width="0.1"/>
<rect x="467.06" y="227.22" width="2.67" height="11.82" fill="#5d6ca7" stroke="#b0b0b0" stroke-width="0.1"/>
<rect x="469.68" y="227.22" width="2.67" height="11.82" fill="#5d6ca7" stroke="#b0b0b0" stroke-width="0.1"/>
<rect x="472.30" y="227.22" width="2.67" height="11.82" fill="#5d6ca7" stroke="#b0b0b0" stroke-width="0.1"/>
<rect x="474.93" y="227.22" width="2.67" height="11.82" fill="#5d6ca7" stroke="#b0b0b0" stroke-width="0.1"/>
<rect x="477.55" y="227.22" width="2.67" height="11.82" fill="#5d6ca7" stroke="#b0b0b0" stroke-width="0.1"/>
<rect x="480.18" y="227.22" width="2.67" height="11.82" fill="#5d6ca7" stroke="#b0b0b0" stroke-width="0.1"/>
<rect x="351.60" y="239.04" width="2.67" height="11.82" fill="#f6bc87" stroke="#b0b0b0" stroke-width="0.1"/>
<rect x="354.22" y="239.04" width="2.67" height="11.82" fill="#f09c70" stroke="#b0b0b0" stroke-width="0.1"/>
<rect x="356.85" y="239.04" width="2.67" height="11.82" fill="#f09c70" stroke="#b0b0b0" stroke-width="0.1"/>
<rect x="359.47" y="239.04" width="2.67" height="11.82" fill="#f6bc87" stroke="#b0b0b0" stroke-width="0.1"/>
<rect x="362.10" y="239.04" width="2.67" height="11.82" fill="#fae2af" stroke="#b0b0b0" stroke-width="0.1"/>
<rect x="364.72" y="239.04" width="2.67" height="11.82" fill="#f6bc87" stroke="#b0b0b0" stroke-width="0.1"/>
<rect x="367.34" y="239.04" width="2.67" height="11.82" fill="#f3aa7a" stroke="#b0b0b0" stroke-width="0.1"/>
<rect x="369.97" y="239.04" width="2.67" height="11.82" fill="#f5b480" stroke="#b0b0b0" stroke-width="0.1"/>
<rect x="372.59" y="239.04" width="2.67" height="11.82" fill="#f3aa7a" stroke="#b0b0b0" stroke-width="0.1"/>
<rect x="375.22" y="239.04" width="2.67" height="11.82" fill="#f1a476" stroke="#b0b0b0" stroke-width="0.1"/>
<rect x="377.84" y="239.04" width="2.67" height="11.82" fill="#f5b480" stroke="#b0b0b0" stroke-width="0.1"/>
<rect x="380.46" y="239.04" width="2.67" height="11.82" fill="#f3aa7a" stroke="#b0b0b0" stroke-width="0.1"/>
<rect x="383.09" y="239.04" width="2.67" height="11.82" fill="#f6bc87" stroke="#b0b0b0" stroke-width="0.1"/>
<rect x="385.71" y="239.04" width="2.67" height="11.82" fill="#fae2af" stroke="#b0b0b0" stroke-width="0.1"/>
<rect x="388.34" y="239.04" width="2.67" height="11.82" fill="#f6bc87" stroke="#b0b0b0" stroke-width="0.1"/>
<rect x="390.96" y="239.04" width="2.67" height="11.82" fill="#f09c70" stroke="#b0b0b0" stroke-width="0.1"/>
<rect x="393.58" y="239.04" width="2.67" height="11.82" fill="#fadfab" stroke="#b0b0b0" stroke-width="0.1"/>
<rect x="396.21" y="239.04" width="2.67" height="11.82" fill="#f6bc87" stroke="#b0b0b0" stroke-width="0.1"/>
<rect x="398.83" y="239.04" width="2.67" height="11.82" fill="#fae9b9" stroke="#b0b0b0" stroke-width="0.1"/>
<rect x="401.46" y="239.04" width="2.67" height="11.82" fill="#f6bc87" stroke="#b0b0b0" stroke-width="0.1"/>
<rect x="404.08" y="239.04" width="2.67" height="11.82" fill="#f0a073" stroke="#b0b0b0" stroke-width="0.1"/>
<rect x="406.70" y="239.04" width="2.67" height="11.82" fill="#f6bc87" stroke="#b0b0b0" stroke-width="0.1"/>
<rect x="409.33" y="239.04" width="2.67" height="11.82" fill="#f6bc87" stroke="#b0b0b0" stroke-width="0.1"/>
<rect x="411.95" y="239.04" width="2.67" height="11.82" fill="#fae2af" stroke="#b0b0b0" stroke-width="0.1"/>
<rect x="414.58" y="239.04" width="2.67" height="11.82" fill="#fae9b9" stroke="#b0b0b0" stroke-width="0.1"/>
<rect x="417.20" y="239.04" width="2.67" height="11.82" fill="#fadba5" stroke="#b0b0b0" stroke-width="0.1"/>
<rect x="419.82" y="239.04" width="2.67" height="11.82" fill="#d35947" stroke="#b0b0b0" stroke-width="0.1"/>
<rect x="422.45" y="239.04" width="2.67" height="11.82" fill="#d35947" stroke="#b0b0b0" stroke-width="0.1"/>
<rect x="425.07" y="239.04" width="2.67" height="11.82" fill="#d35947" stroke="#b0b0b0" stroke-width="0.1"/>
<rect x="427.70" y="239.04" width="2.67" height="11.82" fill="#becfe4" stroke="#b0b0b0" stroke-width="0.1"/>
<rect x="430.32" y="239.04" width="2.67" height="11.82" fill="#becfe4" stroke="#b0b0b0" stroke-width="0.1"/>
<rect x="432.94" y="239.04" width="2.67" height="11.82" fill="#becfe4" stroke="#b0b0b0" stroke-width="0.1"/>
<rect x="435.57" y="239.04" width="2.67" height="11.82" fill="#eef2e4" stroke="#b0b0b0" stroke-width="0.1"/>
<rect x="438.19" y="239.04" width="2.67" height="11.82" fill="#fbf1c6" stroke="#b0b0b0" stroke-width="0.1"/>
<rect x="440.82" y="239.04" width="2.67" height="11.82" fill="#e8f0ec" stroke="#b0b0b0" stroke-width="0.1"/>
<rect x="443.44" y="239.04" width="2.67" height="11.82" fill="#fbf1c6" stroke="#b0b0b0" stroke-width="0.1"/>
<rect x="446.06" y="239.04" width="2.67" height="11.82" fill="#fbf1c6" stroke="#b0b0b0" stroke-width="0.1"/>
<rect x="448.69" y="239.04" width="2.67" height="11.82" fill="#f9d198" stroke="#b0b0b0" stroke-width="0.1"/>
<rect x="451.31" y="239.04" width="2.67" height="11.82" fill="#fbf1c6" stroke="#b0b0b0" stroke-width="0.1"/>
<rect x="453.94" y="239.04" width="2.67" height="11.82" fill="#fadba5" stroke="#b0b0b0" stroke-width="0.1"/>
<rect x="456.56" y="239.04" width="2.67" height="11.82" fill="#faf4cc" stroke="#b0b0b0" stroke-width="0.1"/>
<rect x="459.18" y="239.04" width="2.67" height="11.82" fill="#fbf1c6" stroke="#b0b0b0" stroke-width="0.1"/>
<rect x="461.81" y="239.04" width="2.67" height="11.82" fill="#f9d198" stroke="#b0b0b0" stroke-width="0.1"/>
<rect x="464.43" y="239.04" width="2.67" height="11.82" fill="#fbf0c3" stroke="#b0b0b0" stroke-width="0.1"/>
<rect x="467.06" y="239.04" width="2.67" height="11.82" fill="#faf4cc" stroke="#b0b0b0" stroke-width="0.1"/>
<rect x="469.68" y="239.04" width="2.67" height="11.82" fill="#f9d49b" stroke="#b0b0b0" stroke-width="0.1"/>
<rect x="472.30" y="239.04" width="2.67" height="11.82" fill="#fadfab" stroke="#b0b0b0" stroke-width="0.1"/>
<rect x="474.93" y="239.04" width="2.67" height="11.82" fill="#dfe9ed" stroke="#b0b0b0" stroke-width="0.1"/>
<rect x="477.55" y="239.04" width="2.67" height="11.82" fill="#dfe9ed" stroke="#b0b0b0" stroke-width="0.1"/>
<rect x="480.18" y="239.04" width="2.67" height="11.82" fill="#faf4cc" stroke="#b0b0b0" stroke-width="0.1"/>
<rect x="351.60" y="250.86" width="2.67" height="11.82" fill="#f7c18b" stroke="#b0b0b0" stroke-width="0.1"/>
<rect x="354.22" y="250.86" width="2.67" height="11.82" fill="#ca4a3d" stroke="#b0b0b0" stroke-width="0.1"/>
<rect x="356.85" y="250.86" width="2.67" height="11.82" fill="#ee966c" stroke="#b0b0b0" stroke-width="0.1"/>
<rect x="359.47" y="250.86" width="2.67" height="11.82" fill="#f6bc87" stroke="#b0b0b0" stroke-width="0.1"/>
<rect x="362.10" y="250.86" width="2.67" height="11.82" fill="#fae2af" stroke="#b0b0b0" stroke-width="0.1"/>
<rect x="364.72" y="250.86" width="2.67" height="11.82" fill="#fbf1c6" stroke="#b0b0b0" stroke-width="0.1"/>
<rect x="367.34" y="250.86" width="2.67" height="11.82" fill="#fbf1c6" stroke="#b0b0b0" stroke-width="0.1"/>
<rect x="369.97" y="250.86" width="2.67" height="11.82" fill="#faf7d4" stroke="#b0b0b0" stroke-width="0.1"/>
<rect x="372.59" y="250.86" width="2.67" height="11.82" fill="#fbf1c6" stroke="#b0b0b0" stroke-width="0.1"/>
<rect x="375.22" y="250.86" width="2.67" height="11.82" fill="#fbf1c6" stroke="#b0b0b0" stroke-width="0.1"/>
<rect x="377.84" y="250.86" width="2.67" height="11.82" fill="#fbf1c6" stroke="#b0b0b0" stroke-width="0.1"/>
<rect x="380.46" y="250.86" width="2.67" height="11.82" fill="#f6f6d9" stroke="#b0b0b0" stroke-width="0.1"/>
<rect x="383.09" y="250.86" width="2.67" height="11.82" fill="#fbf1c6" stroke="#b0b0b0" stroke-width="0.1"/>
<rect x="385.71" y="250.86" width="2.67" height="11.82" fill="#fbf1c6" stroke="#b0b0b0" stroke-width="0.1"/>
<rect x="388.34" y="250.86" width="2.67" height="11.82" fill="#fbf1c6" stroke="#b0b0b0" stroke-width="0.1"/>
<rect x="390.96" y="250.86" width="2.67" height="11.82" fill="#fbedbf" stroke="#b0b0b0" stroke-width="0.1"/>
<rect x="393.58" y="250.86" width="2.67" height="11.82" fill="#fbf1c6" stroke="#b0b0b0" stroke-width="0.1"/>
<rect x="396.21" y="250.86" width="2.67" height="11.82" fill="#fbf1c6" stroke="#b0b0b0" stroke-width="0.1"/>
<rect x="398.83" y="250.86" width="2.67" height="11.82" fill="#fbf1c6" stroke="#b0b0b0" stroke-width="0.1"/>
<rect x="401.46" y="250.86" width="2.67" height="11.82" fill="#fbf1c6" stroke="#b0b0b0" stroke-width="0.1"/>
<rect x="404.08" y="250.86" width="2.67" height="11.82" fill="#fbf1c6" stroke="#b0b0b0" stroke-width="0.1"/>
<rect x="406.70" y="250.86" width="2.67" height="11.82" fill="#f8cc94" stroke="#b0b0b0" stroke-width="0.1"/>
<rect x="409.33" y="250.86" width="2.67" height="11.82" fill="#e1ebed" stroke="#b0b0b0" stroke-width="0.1"/>
<rect x="411.95" y="250.86" width="2.67" height="11.82" fill="#e1ebed" stroke="#b0b0b0" stroke-width="0.1"/>
<rect x="414.58" y="250.86" width="2.67" height="11.82" fill="#e1ebed" stroke="#b0b0b0" stroke-width="0.1"/>
<rect x="417.20" y="250.86" width="2.67" height="11.82" fill="#ee946b" stroke="#b0b0b0" stroke-width="0.1"/>
<rect x="419.82" y="250.86" width="2.67" height="11.82" fill="#ee946b" stroke="#b0b0b0" stroke-width="0.1"/>
<rect x="422.45" y="250.86" width="2.67" height="11.82" fill="#ee946b" stroke="#b0b0b0" stroke-width="0.1"/>
<rect x="425.07" y="250.86" width="2.67" height="11.82" fill="#ee946b" stroke="#b0b0b0" stroke-width="0.1"/>
<rect x="427.70" y="250.86" width="2.67" height="11.82" fill="#dbe7ed" stroke="#b0b0b0" stroke-width="0.1"/>
<rect x="430.32" y="250.86" width="2.67" height="11.82" fill="#dbe7ed" stroke="#b0b0b0" stroke-width="0.1"/>
<rect x="432.94" y="250.86" width="2.67" height="11.82" fill="#dbe7ed" stroke="#b0b0b0" stroke-width="0.1"/>
<rect x="435.57" y="250.86" width="2.67" height="11.82" fill="#f4f5dc" stroke="#b0b0b0" stroke-width="0.1"/>
<rect x="438.19" y="250.86" width="2.67" height="11.82" fill="#faf4cc" stroke="#b0b0b0" stroke-width="0.1"/>
<rect x="440.82" y="250.86" width="2.67" height="11.82" fill="#e8f0ec" stroke="#b0b0b0" stroke-width="0.1"/>
<rect x="443.44" y="250.86" width="2.67" height="11.82" fill="#faf4cc" stroke="#b0b0b0" stroke-width="0.1"/>
<rect x="446.06" y="250.86" width="2.67" height="11.82" fill="#ecf1e7" stroke="#b0b0b0" stroke-width="0.1"/>
<rect x="448.69" y="250.86" width="2.67" height="11.82" fill="#fbf1c6" stroke="#b0b0b0" stroke-width="0.1"/>
<rect x="451.31" y="250.86" width="2.67" height="11.82" fill="#eef2e4" stroke="#b0b0b0" stroke-width="0.1"/>
<rect x="453.94" y="250.86" width="2.67" height="11.82" fill="#faf4cc" stroke="#b0b0b0" stroke-width="0.1"/>
<rect x="456.56" y="250.86" width="2.67" height="11.82" fill="#e8f0ec" stroke="#b0b0b0" stroke-width="0.1"/>
<rect x="459.18" y="250.86" width="2.67" height="11.82" fill="#faf4cc" stroke="#b0b0b0" stroke-width="0.1"/>
<rect x="461.81" y="250.86" width="2.67" height="11.82" fill="#faf7d4" stroke="#b0b0b0" stroke-width="0.1"/>
<rect x="464.43" y="250.86" width="2.67" height="11.82" fill="#e8f0ec" stroke="#b0b0b0" stroke-width="0.1"/>
<rect x="467.06" y="250.86" width="2.67" height="11.82" fill="#faf4cc" stroke="#b0b0b0" stroke-width="0.1"/>
<rect x="469.68" y="250.86" width="2.67" height="11.82" fill="#eef2e4" stroke="#b0b0b0" stroke-width="0.1"/>
<rect x="472.30" y="250.86" width="2.67" height="11.82" fill="#faf4cc" stroke="#b0b0b0" stroke-width="0.1"/>
<rect x="474.93" y="250.86" width="2.67" height="11.82" fill="#e8f0ec" stroke="#b0b0b0" stroke-width="0.1"/>
<rect x="477.55" y="250.86" width="2.67" height="11.82" fill="#faf7d4" stroke="#b0b0b0" stroke-width="0.1"/>
<rect x="480.18" y="250.86" width="2.67" height="11.82" fill="#eef2e4" stroke="#b0b0b0" stroke-width="0.1"/>
<rect x="351.60" y="262.68" width="2.67" height="11.82" fill="#d1dfed" stroke="#b0b0b0" stroke-width="0.1"/>
<rect x="354.22" y="262.68" width="2.67" height="11.82" fill="#e1ebed" stroke="#b0b0b0" stroke-width="0.1"/>
<rect x="356.85" y="262.68" width="2.67" height="11.82" fill="#c8d8e9" stroke="#b0b0b0" stroke-width="0.1"/>
<rect x="359.47" y="262.68" width="2.67" height="11.82" fill="#dbe7ed" stroke="#b0b0b0" stroke-width="0.1"/>
<rect x="362.10" y="262.68" width="2.67" height="11.82" fill="#ecf1e7" stroke="#b0b0b0" stroke-width="0.1"/>
<rect x="364.72" y="262.68" width="2.67" height="11.82" fill="#dfe9ed" stroke="#b0b0b0" stroke-width="0.1"/>
<rect x="367.34" y="262.68" width="2.67" height="11.82" fill="#cbdaea" stroke="#b0b0b0" stroke-width="0.1"/>
<rect x="369.97" y="262.68" width="2.67" height="11.82" fill="#e1ebed" stroke="#b0b0b0" stroke-width="0.1"/>
<rect x="372.59" y="262.68" width="2.67" height="11.82" fill="#c8d8e9" stroke="#b0b0b0" stroke-width="0.1"/>
<rect x="375.22" y="262.68" width="2.67" height="11.82" fill="#dfe9ed" stroke="#b0b0b0" stroke-width="0.1"/>
<rect x="377.84" y="262.68" width="2.67" height="11.82" fill="#d7e4ee" stroke="#b0b0b0" stroke-width="0.1"/>
<rect x="380.46" y="262.68" width="2.67" height="11.82" fill="#e4edec" stroke="#b0b0b0" stroke-width="0.1"/>
<rect x="383.09" y="262.68" width="2.67" height="11.82" fill="#ceddeb" stroke="#b0b0b0" stroke-width="0.1"/>
<rect x="385.71" y="262.68" width="2.67" height="11.82" fill="#dce8ed" stroke="#b0b0b0" stroke-width="0.1"/>
<rect x="388.34" y="262.68" width="2.67" height="11.82" fill="#cbdaea" stroke="#b0b0b0" stroke-width="0.1"/>
<rect x="390.96" y="262.68" width="2.67" height="11.82" fill="#e1ebed" stroke="#b0b0b0" stroke-width="0.1"/>
<rect x="393.58" y="262.68" width="2.67" height="11.82" fill="#d4e2ee" stroke="#b0b0b0" stroke-width="0.1"/>
<rect x="396.21" y="262.68" width="2.67" height="11.82" fill="#c5d5e7" stroke="#b0b0b0" stroke-width="0.1"/>
<rect x="398.83" y="262.68" width="2.67" height="11.82" fill="#dfe9ed" stroke="#b0b0b0" stroke-width="0.1"/>
<rect x="401.46" y="262.68" width="2.67" height="11.82" fill="#c8d8e9" stroke="#b0b0b0" stroke-width="0.1"/>
<rect x="404.08" y="262.68" width="2.67" height="11.82" fill="#d4e2ee" stroke="#b0b0b0" stroke-width="0.1"/>
<rect x="406.70" y="262.68" width="2.67" height="11.82" fill="#b4c6df" stroke="#b0b0b0" stroke-width="0.1"/>
<rect x="409.33" y="262.68" width="2.67" height="11.82" fill="#e8f0ec" stroke="#b0b0b0" stroke-width="0.1"/>
<rect x="411.95" y="262.68" width="2.67" height="11.82" fill="#cddceb" stroke="#b0b0b0" stroke-width="0.1"/>
<rect x="414.58" y="262.68" width="2.67" height="11.82" fill="#d7e4ee" stroke="#b0b0b0" stroke-width="0.1"/>
<rect x="417.20" y="262.68" width="2.67" height="11.82" fill="#c5d5e7" stroke="#b0b0b0" stroke-width="0.1"/>
<rect x="419.82" y="262.68" width="2.67" height="11.82" fill="#c5d5e7" stroke="#b0b0b0" stroke-width="0.1"/>
<rect x="422.45" y="262.68" width="2.67" height="11.82" fill="#e8f0ec" stroke="#b0b0b0" stroke-width="0.1"/>
<rect x="425.07" y="262.68" width="2.67" height="11.82" fill="#e8f0ec" stroke="#b0b0b0" stroke-width="0.1"/>
<rect x="427.70" y="262.68" width="2.67" height="11.82" fill="#6273ac" stroke="#b0b0b0" stroke-width="0.1"/>
<rect x="430.32" y="262.68" width="2.67" height="11.82" fill="#e8f0ec" stroke="#b0b0b0" stroke-width="0.1"/>
<rect x="432.94" y="262.68" width="2.67" height="11.82" fill="#d4e2ee" stroke="#b0b0b0" stroke-width="0.1"/>
<rect x="435.57" y="262.68" width="2.67" height="11.82" fill="#c5d5e7" stroke="#b0b0b0" stroke-width="0.1"/>
<rect x="438.19" y="262.68" width="2.67" height="11.82" fill="#c5d5e7" stroke="#b0b0b0" stroke-width="0.1"/>
<rect x="440.82" y="262.68" width="2.67" height="11.82" fill="#b4c6df" stroke="#b0b0b0" stroke-width="0.1"/>
<rect x="443.44" y="262.68" width="2.67" height="11.82" fill="#b4c6df" stroke="#b0b0b0" stroke-width="0.1"/>
<rect x="446.06" y="262.68" width="2.67" height="11.82" fill="#b4c6df" stroke="#b0b0b0" stroke-width="0.1"/>
<rect x="448.69" y="262.68" width="2.67" height="11.82" fill="#b4c6df" stroke="#b0b0b0" stroke-width="0.1"/>
<rect x="451.31" y="262.68" width="2.67" height="11.82" fill="#b4c6df" stroke="#b0b0b0" stroke-width="0.1"/>
<rect x="453.94" y="262.68" width="2.67" height="11.82" fill="#cbdaea" stroke="#b0b0b0" stroke-width="0.1"/>
<rect x="456.56" y="262.68" width="2.67" height="11.82" fill="#cbdaea" stroke="#b0b0b0" stroke-width="0.1"/>
<rect x="459.18" y="262.68" width="2.67" height="11.82" fill="#cbdaea" stroke="#b0b0b0" stroke-width="0.1"/>
<rect x="461.81" y="262.68" width="2.67" height="11.82" fill="#cbdaea" stroke="#b0b0b0" stroke-width="0.1"/>
<rect x="464.43" y="262.68" width="2.67" height="11.82" fill="#d7e4ee" stroke="#b0b0b0" stroke-width="0.1"/>
<rect x="467.06" y="262.68" width="2.67" height="11.82" fill="#d7e4ee" stroke="#b0b0b0" stroke-width="0.1"/>
<rect x="469.68" y="262.68" width="2.67" height="11.82" fill="#d7e4ee" stroke="#b0b0b0" stroke-width="0.1"/>
<rect x="472.30" y="262.68" width="2.67" height="11.82" fill="#d7e4ee" stroke="#b0b0b0" stroke-width="0.1"/>
<rect x="474.93" y="262.68" width="2.67" height="11.82" fill="#d7e4ee" stroke="#b0b0b0" stroke-width="0.1"/>
<rect x="477.55" y="262.68" width="2.67" height="11.82" fill="#d7e4ee" stroke="#b0b0b0" stroke-width="0.1"/>
<rect x="480.18" y="262.68" width="2.67" height="11.82" fill="#d7e4ee" stroke="#b0b0b0" stroke-width="0.1"/>
<rect x="351.60" y="274.50" width="2.67" height="11.82" fill="#c5d5e7" stroke="#b0b0b0" stroke-width="0.1"/>
<rect x="354.22" y="274.50" width="2.67" height="11.82" fill="#ceddeb" stroke="#b0b0b0" stroke-width="0.1"/>
<rect x="356.85" y="274.50" width="2.67" height="11.82" fill="#becfe4" stroke="#b0b0b0" stroke-width="0.1"/>
<rect x="359.47" y="274.50" width="2.67" height="11.82" fill="#d4e2ee" stroke="#b0b0b0" stroke-width="0.1"/>
<rect x="362.10" y="274.50" width="2.67" height="11.82" fill="#dfe9ed" stroke="#b0b0b0" stroke-width="0.1"/>
<rect x="364.72" y="274.50" width="2.67" height="11.82" fill="#dfe9ed" stroke="#b0b0b0" stroke-width="0.1"/>
<rect x="367.34" y="274.50" width="2.67" height="11.82" fill="#c2d3e6" stroke="#b0b0b0" stroke-width="0.1"/>
<rect x="369.97" y="274.50" width="2.67" height="11.82" fill="#d4e2ee" stroke="#b0b0b0" stroke-width="0.1"/>
<rect x="372.59" y="274.50" width="2.67" height="11.82" fill="#bccde3" stroke="#b0b0b0" stroke-width="0.1"/>
<rect x="375.22" y="274.50" width="2.67" height="11.82" fill="#d0deec" stroke="#b0b0b0" stroke-width="0.1"/>
<rect x="377.84" y="274.50" width="2.67" height="11.82" fill="#c8d8e9" stroke="#b0b0b0" stroke-width="0.1"/>
<rect x="380.46" y="274.50" width="2.67" height="11.82" fill="#d7e4ee" stroke="#b0b0b0" stroke-width="0.1"/>
<rect x="383.09" y="274.50" width="2.67" height="11.82" fill="#bfd0e5" stroke="#b0b0b0" stroke-width="0.1"/>
<rect x="385.71" y="274.50" width="2.67" height="11.82" fill="#cbdaea" stroke="#b0b0b0" stroke-width="0.1"/>
<rect x="388.34" y="274.50" width="2.67" height="11.82" fill="#b8cae1" stroke="#b0b0b0" stroke-width="0.1"/>
<rect x="390.96" y="274.50" width="2.67" height="11.82" fill="#d4e2ee" stroke="#b0b0b0" stroke-width="0.1"/>
<rect x="393.58" y="274.50" width="2.67" height="11.82" fill="#c5d5e7" stroke="#b0b0b0" stroke-width="0.1"/>
<rect x="396.21" y="274.50" width="2.67" height="11.82" fill="#cbdaea" stroke="#b0b0b0" stroke-width="0.1"/>
<rect x="398.83" y="274.50" width="2.67" height="11.82" fill="#bfd0e5" stroke="#b0b0b0" stroke-width="0.1"/>
<rect x="401.46" y="274.50" width="2.67" height="11.82" fill="#c8d8e9" stroke="#b0b0b0" stroke-width="0.1"/>
<rect x="404.08" y="274.50" width="2.67" height="11.82" fill="#d1dfed" stroke="#b0b0b0" stroke-width="0.1"/>
<rect x="406.70" y="274.50" width="2.67" height="11.82" fill="#aabdd9" stroke="#b0b0b0" stroke-width="0.1"/>
<rect x="409.33" y="274.50" width="2.67" height="11.82" fill="#aabdd9" stroke="#b0b0b0" stroke-width="0.1"/>
<rect x="411.95" y="274.50" width="2.67" height="11.82" fill="#c5d5e7" stroke="#b0b0b0" stroke-width="0.1"/>
<rect x="414.58" y="274.50" width="2.67" height="11.82" fill="#cddceb" stroke="#b0b0b0" stroke-width="0.1"/>
<rect x="417.20" y="274.50" width="2.67" height="11.82" fill="#becfe4" stroke="#b0b0b0" stroke-width="0.1"/>
<rect x="419.82" y="274.50" width="2.67" height="11.82" fill="#becfe4" stroke="#b0b0b0" stroke-width="0.1"/>
<rect x="422.45" y="274.50" width="2.67" height="11.82" fill="#becfe4" stroke="#b0b0b0" stroke-width="0.1"/>
<rect x="425.07" y="274.50" width="2.67" height="11.82" fill="#becfe4" stroke="#b0b0b0" stroke-width="0.1"/>
<rect x="427.70" y="274.50" width="2.67" height="11.82" fill="#a0b4d4" stroke="#b0b0b0" stroke-width="0.1"/>
<rect x="430.32" y="274.50" width="2.67" height="11.82" fill="#a0b4d4" stroke="#b0b0b0" stroke-width="0.1"/>
<rect x="432.94" y="274.50" width="2.67" height="11.82" fill="#a0b4d4" stroke="#b0b0b0" stroke-width="0.1"/>
<rect x="435.57" y="274.50" width="2.67" height="11.82" fill="#cddceb" stroke="#b0b0b0" stroke-width="0.1"/>
<rect x="438.19" y="274.50" width="2.67" height="11.82" fill="#b4c6df" stroke="#b0b0b0" stroke-width="0.1"/>
<rect x="440.82" y="274.50" width="2.67" height="11.82" fill="#b4c6df" stroke="#b0b0b0" stroke-width="0.1"/>
<rect x="443.44" y="274.50" width="2.67" height="11.82" fill="#b4c6df" stroke="#b0b0b0" stroke-width="0.1"/>
<rect x="446.06" y="274.50" width="2.67" height="11.82" fill="#9bafd1" stroke="#b0b0b0" stroke-width="0.1"/>
<rect x="448.69" y="274.50" width="2.67" height="11.82" fill="#9bafd1" stroke="#b0b0b0" stroke-width="0.1"/>
<rect x="451.31" y="274.50" width="2.67" height="11.82" fill="#aabdd9" stroke="#b0b0b0" stroke-width="0.1"/>
<rect x="453.94" y="274.50" width="2.67" height="11.82" fill="#aabdd9" stroke="#b0b0b0" stroke-width="0.1"/>
<rect x="456.56" y="274.50" width="2.67" height="11.82" fill="#aabdd9" stroke="#b0b0b0" stroke-width="0.1"/>
<rect x="459.18" y="274.50" width="2.67" height="11.82" fill="#aabdd9" stroke="#b0b0b0" stroke-width="0.1"/>
<rect x="461.81" y="274.50" width="2.67" height="11.82" fill="#aabdd9" stroke="#b0b0b0" stroke-width="0.1"/>
<rect x="464.43" y="274.50" width="2.67" height="11.82" fill="#aabdd9" stroke="#b0b0b0" stroke-width="0.1"/>
<rect x="467.06" y="274.50" width="2.67" height="11.82" fill="#c8d8e9" stroke="#b0b0b0" stroke-width="0.1"/>
<rect x="469.68" y="274.50" width="2.67" height="11.82" fill="#c8d8e9" stroke="#b0b0b0" stroke-width="0.1"/>
<rect x="472.30" y="274.50" width="2.67" height="11.82" fill="#c8d8e9" stroke="#b0b0b0" stroke-width="0.1"/>
<rect x="474.93" y="274.50" width="2.67" height="11.82" fill="#c8d8e9" stroke="#b0b0b0" stroke-width="0.1"/>
<rect x="477.55" y="274.50" width="2.67" height="11.82" fill="#c8d8e9" stroke="#b0b0b0" stroke-width="0.1"/>
<rect x="480.18" y="274.50" width="2.67" height="11.82" fill="#c8d8e9" stroke="#b0b0b0" stroke-width="0.1"/>
<rect x="351.60" y="286.32" width="2.67" height="11.82" fill="#faf6d1" stroke="#b0b0b0" stroke-width="0.1"/>
<rect x="354.22" y="286.32" width="2.67" height="11.82" fill="#faf6d1" stroke="#b0b0b0" stroke-width="0.1"/>
<rect x="356.85" y="286.32" width="2.67" height="11.82" fill="#f0f3e1" stroke="#b0b0b0" stroke-width="0.1"/>
<rect x="359.47" y="286.32" width="2.67" height="11.82" fill="#faf6d1" stroke="#b0b0b0" stroke-width="0.1"/>
<rect x="362.10" y="286.32" width="2.67" height="11.82" fill="#faf6d1" stroke="#b0b0b0" stroke-width="0.1"/>
<rect x="364.72" y="286.32" width="2.67" height="11.82" fill="#eef2e4" stroke="#b0b0b0" stroke-width="0.1"/>
<rect x="367.34" y="286.32" width="2.67" height="11.82" fill="#faf6d1" stroke="#b0b0b0" stroke-width="0.1"/>
<rect x="369.97" y="286.32" width="2.67" height="11.82" fill="#faf6d1" stroke="#b0b0b0" stroke-width="0.1"/>
<rect x="372.59" y="286.32" width="2.67" height="11.82" fill="#faf6d1" stroke="#b0b0b0" stroke-width="0.1"/>
<rect x="375.22" y="286.32" width="2.67" height="11.82" fill="#f3f4de" stroke="#b0b0b0" stroke-width="0.1"/>
<rect x="377.84" y="286.32" width="2.67" height="11.82" fill="#faf6d1" stroke="#b0b0b0" stroke-width="0.1"/>
<rect x="380.46" y="286.32" width="2.67" height="11.82" fill="#faf6d1" stroke="#b0b0b0" stroke-width="0.1"/>
<rect x="383.09" y="286.32" width="2.67" height="11.82" fill="#faf6d1" stroke="#b0b0b0" stroke-width="0.1"/>
<rect x="385.71" y="286.32" width="2.67" height="11.82" fill="#f0f3e1" stroke="#b0b0b0" stroke-width="0.1"/>
<rect x="388.34" y="286.32" width="2.67" height="11.82" fill="#faf6d1" stroke="#b0b0b0" stroke-width="0.1"/>
<rect x="390.96" y="286.32" width="2.67" height="11.82" fill="#faf6d1" stroke="#b0b0b0" stroke-width="0.1"/>
<rect x="393.58" y="286.32" width="2.67" height="11.82" fill="#faf6d1" stroke="#b0b0b0" stroke-width="0.1"/>
<rect x="396.21" y="286.32" width="2.67" height="11.82" fill="#f3f4de" stroke="#b0b0b0" stroke-width="0.1"/>
<rect x="398.83" y="286.32" width="2.67" height="11.82" fill="#faf6d1" stroke="#b0b0b0" stroke-width="0.1"/>
<rect x="401.46" y="286.32" width="2.67" height="11.82" fill="#faf6d1" stroke="#b0b0b0" stroke-width="0.1"/>
<rect x="404.08" y="286.32" width="2.67" height="11.82" fill="#faf6d1" stroke="#b0b0b0" stroke-width="0.1"/>
<rect x="406.70" y="286.32" width="2.67" height="11.82" fill="#faf6d1" stroke="#b0b0b0" stroke-width="0.1"/>
<rect x="409.33" y="286.32" width="2.67" height="11.82" fill="#eef2e4" stroke="#b0b0b0" stroke-width="0.1"/>
<rect x="411.95" y="286.32" width="2.67" height="11.82" fill="#f3f4de" stroke="#b0b0b0" stroke-width="0.1"/>
<rect x="414.58" y="286.32" width="2.67" height="11.82" fill="#f5f5da" stroke="#b0b0b0" stroke-width="0.1"/>
<rect x="417.20" y="286.32" width="2.67" height="11.82" fill="#faf6d2" stroke="#b0b0b0" stroke-width="0.1"/>
<rect x="419.82" y="286.32" width="2.67" height="11.82" fill="#faf6d2" stroke="#b0b0b0" stroke-width="0.1"/>
<rect x="422.45" y="286.32" width="2.67" height="11.82" fill="#faf6d2" stroke="#b0b0b0" stroke-width="0.1"/>
<rect x="425.07" y="286.32" width="2.67" height="11.82" fill="#f4f5dc" stroke="#b0b0b0" stroke-width="0.1"/>
<rect x="427.70" y="286.32" width="2.67" height="11.82" fill="#eef2e4" stroke="#b0b0b0" stroke-width="0.1"/>
<rect x="430.32" y="286.32" width="2.67" height="11.82" fill="#eef2e4" stroke="#b0b0b0" stroke-width="0.1"/>
<rect x="432.94" y="286.32" width="2.67" height="11.82" fill="#eef2e4" stroke="#b0b0b0" stroke-width="0.1"/>
<rect x="435.57" y="286.32" width="2.67" height="11.82" fill="#eef2e4" stroke="#b0b0b0" stroke-width="0.1"/>
<rect x="438.19" y="286.32" width="2.67" height="11.82" fill="#faf6d2" stroke="#b0b0b0" stroke-width="0.1"/>
<rect x="440.82" y="286.32" width="2.67" height="11.82" fill="#faf6d2" stroke="#b0b0b0" stroke-width="0.1"/>
<rect x="443.44" y="286.32" width="2.67" height="11.82" fill="#faf6d2" stroke="#b0b0b0" stroke-width="0.1"/>
<rect x="446.06" y="286.32" width="2.67" height="11.82" fill="#fbf3ca" stroke="#b0b0b0" stroke-width="0.1"/>
<rect x="448.69" y="286.32" width="2.67" height="11.82" fill="#faf6d2" stroke="#b0b0b0" stroke-width="0.1"/>
<rect x="451.31" y="286.32" width="2.67" height="11.82" fill="#faf6d2" stroke="#b0b0b0" stroke-width="0.1"/>
<rect x="453.94" y="286.32" width="2.67" height="11.82" fill="#faf6d2" stroke="#b0b0b0" stroke-width="0.1"/>
<rect x="456.56" y="286.32" width="2.67" height="11.82" fill="#f3f4de" stroke="#b0b0b0" stroke-width="0.1"/>
<rect x="459.18" y="286.32" width="2.67" height="11.82" fill="#faf6d2" stroke="#b0b0b0" stroke-width="0.1"/>
<rect x="461.81" y="286.32" width="2.67" height="11.82" fill="#faf6d2" stroke="#b0b0b0" stroke-width="0.1"/>
<rect x="464.43" y="286.32" width="2.67" height="11.82" fill="#faf6d2" stroke="#b0b0b0" stroke-width="0.1"/>
<rect x="467.06" y="286.32" width="2.67" height="11.82" fill="#faf6d2" stroke="#b0b0b0" stroke-width="0.1"/>
<rect x="469.68" y="286.32" width="2.67" height="11.82" fill="#fbf3ca" stroke="#b0b0b0" stroke-width="0.1"/>
<rect x="472.30" y="286.32" width="2.67" height="11.82" fill="#faf6d2" stroke="#b0b0b0" stroke-width="0.1"/>
<rect x="474.93" y="286.32" width="2.67" height="11.82" fill="#faf6d2" stroke="#b0b0b0" stroke-width="0.1"/>
<rect x="477.55" y="286.32" width="2.67" height="11.82" fill="#faf6d2" stroke="#b0b0b0" stroke-width="0.1"/>
<rect x="480.18" y="286.32" width="2.67" height="11.82" fill="#faf6d2" stroke="#b0b0b0" stroke-width="0.1"/>
<rect x="351.60" y="298.14" width="2.67" height="11.82" fill="#f9d49b" stroke="#b0b0b0" stroke-width="0.1"/>
<rect x="354.22" y="298.14" width="2.67" height="11.82" fill="#fbf1c6" stroke="#b0b0b0" stroke-width="0.1"/>
<rect x="356.85" y="298.14" width="2.67" height="11.82" fill="#fbf1c6" stroke="#b0b0b0" stroke-width="0.1"/>
<rect x="359.47" y="298.14" width="2.67" height="11.82" fill="#fbf1c6" stroke="#b0b0b0" stroke-width="0.1"/>
<rect x="362.10" y="298.14" width="2.67" height="11.82" fill="#f9d49b" stroke="#b0b0b0" stroke-width="0.1"/>
<rect x="364.72" y="298.14" width="2.67" height="11.82" fill="#f9d49b" stroke="#b0b0b0" stroke-width="0.1"/>
<rect x="367.34" y="298.14" width="2.67" height="11.82" fill="#fbf3ca" stroke="#b0b0b0" stroke-width="0.1"/>
<rect x="369.97" y="298.14" width="2.67" height="11.82" fill="#fbf3ca" stroke="#b0b0b0" stroke-width="0.1"/>
<rect x="372.59" y="298.14" width="2.67" height="11.82" fill="#f4f5dc" stroke="#b0b0b0" stroke-width="0.1"/>
<rect x="375.22" y="298.14" width="2.67" height="11.82" fill="#fbf1c6" stroke="#b0b0b0" stroke-width="0.1"/>
<rect x="377.84" y="298.14" width="2.67" height="11.82" fill="#fbf1c6" stroke="#b0b0b0" stroke-width="0.1"/>
<rect x="380.46" y="298.14" width="2.67" height="11.82" fill="#fbf1c6" stroke="#b0b0b0" stroke-width="0.1"/>
<rect x="383.09" y="298.14" width="2.67" height="11.82" fill="#fbf1c6" stroke="#b0b0b0" stroke-width="0.1"/>
<rect x="385.71" y="298.14" width="2.67" height="11.82" fill="#f9d49b" stroke="#b0b0b0" stroke-width="0.1"/>
<rect x="388.34" y="298.14" width="2.67" height="11.82" fill="#fbf1c6" stroke="#b0b0b0" stroke-width="0.1"/>
<rect x="390.96" y="298.14" width="2.67" height="11.82" fill="#fbf1c6" stroke="#b0b0b0" stroke-width="0.1"/>
<rect x="393.58" y="298.14" width="2.67" height="11.82" fill="#fbf1c6" stroke="#b0b0b0" stroke-width="0.1"/>
<rect x="396.21" y="298.14" width="2.67" height="11.82" fill="#fbf1c6" stroke="#b0b0b0" stroke-width="0.1"/>
<rect x="398.83" y="298.14" width="2.67" height="11.82" fill="#fbf1c6" stroke="#b0b0b0" stroke-width="0.1"/>
<rect x="401.46" y="298.14" width="2.67" height="11.82" fill="#fbf1c6" stroke="#b0b0b0" stroke-width="0.1"/>
<rect x="404.08" y="298.14" width="2.67" height="11.82" fill="#e1ebed" stroke="#b0b0b0" stroke-width="0.1"/>
<rect x="406.70" y="298.14" width="2.67" height="11.82" fill="#fbf1c6" stroke="#b0b0b0" stroke-width="0.1"/>
<rect x="409.33" y="298.14" width="2.67" height="11.82" fill="#fbf1c6" stroke="#b0b0b0" stroke-width="0.1"/>
<rect x="411.95" y="298.14" width="2.67" height="11.82" fill="#fbf1c6" stroke="#b0b0b0" stroke-width="0.1"/>
<rect x="414.58" y="298.14" width="2.67" height="11.82" fill="#fbf1c6" stroke="#b0b0b0" stroke-width="0.1"/>
<rect x="417.20" y="298.14" width="2.67" height="11.82" fill="#fbf0c3" stroke="#b0b0b0" stroke-width="0.1"/>
<rect x="419.82" y="298.14" width="2.67" height="11.82" fill="#fae2af" stroke="#b0b0b0" stroke-width="0.1"/>
<rect x="422.45" y="298.14" width="2.67" height="11.82" fill="#fae2af" stroke="#b0b0b0" stroke-width="0.1"/>
<rect x="425.07" y="298.14" width="2.67" height="11.82" fill="#fadba5" stroke="#b0b0b0" stroke-width="0.1"/>
<rect x="427.70" y="298.14" width="2.67" height="11.82" fill="#aabdd9" stroke="#b0b0b0" stroke-width="0.1"/>
<rect x="430.32" y="298.14" width="2.67" height="11.82" fill="#8da1c9" stroke="#b0b0b0" stroke-width="0.1"/>
<rect x="432.94" y="298.14" width="2.67" height="11.82" fill="#8da1c9" stroke="#b0b0b0" stroke-width="0.1"/>
<rect x="435.57" y="298.14" width="2.67" height="11.82" fill="#f4f5dc" stroke="#b0b0b0" stroke-width="0.1"/>
<rect x="438.19" y="298.14" width="2.67" height="11.82" fill="#cddceb" stroke="#b0b0b0" stroke-width="0.1"/>
<rect x="440.82" y="298.14" width="2.67" height="11.82" fill="#faf7d4" stroke="#b0b0b0" stroke-width="0.1"/>
<rect x="443.44" y="298.14" width="2.67" height="11.82" fill="#d4e2ee" stroke="#b0b0b0" stroke-width="0.1"/>
<rect x="446.06" y="298.14" width="2.67" height="11.82" fill="#becfe4" stroke="#b0b0b0" stroke-width="0.1"/>
<rect x="448.69" y="298.14" width="2.67" height="11.82" fill="#c5d5e7" stroke="#b0b0b0" stroke-width="0.1"/>
<rect x="451.31" y="298.14" width="2.67" height="11.82" fill="#f9d49b" stroke="#b0b0b0" stroke-width="0.1"/>
<rect x="453.94" y="298.14" width="2.67" height="11.82" fill="#fbf3ca" stroke="#b0b0b0" stroke-width="0.1"/>
<rect x="456.56" y="298.14" width="2.67" height="11.82" fill="#fbf3ca" stroke="#b0b0b0" stroke-width="0.1"/>
<rect x="459.18" y="298.14" width="2.67" height="11.82" fill="#f9d49b" stroke="#b0b0b0" stroke-width="0.1"/>
<rect x="461.81" y="298.14" width="2.67" height="11.82" fill="#fbf3ca" stroke="#b0b0b0" stroke-width="0.1"/>
<rect x="464.43" y="298.14" width="2.67" height="11.82" fill="#fbf3ca" stroke="#b0b0b0" stroke-width="0.1"/>
<rect x="467.06" y="298.14" width="2.67" height="11.82" fill="#f9d49b" stroke="#b0b0b0" stroke-width="0.1"/>
<rect x="469.68" y="298.14" width="2.67" height="11.82" fill="#fbf3ca" stroke="#b0b0b0" stroke-width="0.1"/>
<rect x="472.30" y="298.14" width="2.67" height="11.82" fill="#f9d49b" stroke="#b0b0b0" stroke-width="0.1"/>
<rect x="474.93" y="298.14" width="2.67" height="11.82" fill="#faf4cc" stroke="#b0b0b0" stroke-width="0.1"/>
<rect x="477.55" y="298.14" width="2.67" height="11.82" fill="#faf4cc" stroke="#b0b0b0" stroke-width="0.1"/>
<rect x="480.18" y="298.14" width="2.67" height="11.82" fill="#faf4cc" stroke="#b0b0b0" stroke-width="0.1"/>
<rect x="351.60" y="309.96" width="2.67" height="11.82" fill="#fae9b9" stroke="#b0b0b0" stroke-width="0.1"/>
<rect x="354.22" y="309.96" width="2.67" height="11.82" fill="#fbf1c6" stroke="#b0b0b0" stroke-width="0.1"/>
<rect x="356.85" y="309.96" width="2.67" height="11.82" fill="#fbf1c6" stroke="#b0b0b0" stroke-width="0.1"/>
<rect x="359.47" y="309.96" width="2.67" height="11.82" fill="#fbf1c6" stroke="#b0b0b0" stroke-width="0.1"/>
<rect x="362.10" y="309.96" width="2.67" height="11.82" fill="#f7c790" stroke="#b0b0b0" stroke-width="0.1"/>
<rect x="364.72" y="309.96" width="2.67" height="11.82" fill="#f7c790" stroke="#b0b0b0" stroke-width="0.1"/>
<rect x="367.34" y="309.96" width="2.67" height="11.82" fill="#fbf1c6" stroke="#b0b0b0" stroke-width="0.1"/>
<rect x="369.97" y="309.96" width="2.67" height="11.82" fill="#eef2e4" stroke="#b0b0b0" stroke-width="0.1"/>
<rect x="372.59" y="309.96" width="2.67" height="11.82" fill="#fbf1c6" stroke="#b0b0b0" stroke-width="0.1"/>
<rect x="375.22" y="309.96" width="2.67" height="11.82" fill="#fbf1c6" stroke="#b0b0b0" stroke-width="0.1"/>
<rect x="377.84" y="309.96" width="2.67" height="11.82" fill="#f9d79f" stroke="#b0b0b0" stroke-width="0.1"/>
<rect x="380.46" y="309.96" width="2.67" height="11.82" fill="#fbf1c6" stroke="#b0b0b0" stroke-width="0.1"/>
<rect x="383.09" y="309.96" width="2.67" height="11.82" fill="#fbf1c6" stroke="#b0b0b0" stroke-width="0.1"/>
<rect x="385.71" y="309.96" width="2.67" height="11.82" fill="#fbf1c6" stroke="#b0b0b0" stroke-width="0.1"/>
<rect x="388.34" y="309.96" width="2.67" height="11.82" fill="#fbf1c6" stroke="#b0b0b0" stroke-width="0.1"/>
<rect x="390.96" y="309.96" width="2.67" height="11.82" fill="#fbf1c6" stroke="#b0b0b0" stroke-width="0.1"/>
<rect x="393.58" y="309.96" width="2.67" height="11.82" fill="#fbf1c6" stroke="#b0b0b0" stroke-width="0.1"/>
<rect x="396.21" y="309.96" width="2.67" height="11.82" fill="#eef2e4" stroke="#b0b0b0" stroke-width="0.1"/>
<rect x="398.83" y="309.96" width="2.67" height="11.82" fill="#fbf1c6" stroke="#b0b0b0" stroke-width="0.1"/>
<rect x="401.46" y="309.96" width="2.67" height="11.82" fill="#fbf1c6" stroke="#b0b0b0" stroke-width="0.1"/>
<rect x="404.08" y="309.96" width="2.67" height="11.82" fill="#fbf1c6" stroke="#b0b0b0" stroke-width="0.1"/>
<rect x="406.70" y="309.96" width="2.67" height="11.82" fill="#7083b7" stroke="#b0b0b0" stroke-width="0.1"/>
<rect x="409.33" y="309.96" width="2.67" height="11.82" fill="#fae9b9" stroke="#b0b0b0" stroke-width="0.1"/>
<rect x="411.95" y="309.96" width="2.67" height="11.82" fill="#fbf0c3" stroke="#b0b0b0" stroke-width="0.1"/>
<rect x="414.58" y="309.96" width="2.67" height="11.82" fill="#faf7d4" stroke="#b0b0b0" stroke-width="0.1"/>
<rect x="417.20" y="309.96" width="2.67" height="11.82" fill="#8da1c9" stroke="#b0b0b0" stroke-width="0.1"/>
<rect x="419.82" y="309.96" width="2.67" height="11.82" fill="#f7c790" stroke="#b0b0b0" stroke-width="0.1"/>
<rect x="422.45" y="309.96" width="2.67" height="11.82" fill="#fbf0c3" stroke="#b0b0b0" stroke-width="0.1"/>
<rect x="425.07" y="309.96" width="2.67" height="11.82" fill="#faf7d4" stroke="#b0b0b0" stroke-width="0.1"/>
<rect x="427.70" y="309.96" width="2.67" height="11.82" fill="#94a8cd" stroke="#b0b0b0" stroke-width="0.1"/>
<rect x="430.32" y="309.96" width="2.67" height="11.82" fill="#94a8cd" stroke="#b0b0b0" stroke-width="0.1"/>
<rect x="432.94" y="309.96" width="2.67" height="11.82" fill="#94a8cd" stroke="#b0b0b0" stroke-width="0.1"/>
<rect x="435.57" y="309.96" width="2.67" height="11.82" fill="#94a8cd" stroke="#b0b0b0" stroke-width="0.1"/>
<rect x="438.19" y="309.96" width="2.67" height="11.82" fill="#eef2e4" stroke="#b0b0b0" stroke-width="0.1"/>
<rect x="440.82" y="309.96" width="2.67" height="11.82" fill="#b4c6df" stroke="#b0b0b0" stroke-width="0.1"/>
<rect x="443.44" y="309.96" width="2.67" height="11.82" fill="#9bafd1" stroke="#b0b0b0" stroke-width="0.1"/>
<rect x="446.06" y="309.96" width="2.67" height="11.82" fill="#9bafd1" stroke="#b0b0b0" stroke-width="0.1"/>
<rect x="448.69" y="309.96" width="2.67" height="11.82" fill="#cddceb" stroke="#b0b0b0" stroke-width="0.1"/>
<rect x="451.31" y="309.96" width="2.67" height="11.82" fill="#cddceb" stroke="#b0b0b0" stroke-width="0.1"/>
<rect x="453.94" y="309.96" width="2.67" height="11.82" fill="#faf7d4" stroke="#b0b0b0" stroke-width="0.1"/>
<rect x="456.56" y="309.96" width="2.67" height="11.82" fill="#fbf0c3" stroke="#b0b0b0" stroke-width="0.1"/>
<rect x="459.18" y="309.96" width="2.67" height="11.82" fill="#fbf0c3" stroke="#b0b0b0" stroke-width="0.1"/>
<rect x="461.81" y="309.96" width="2.67" height="11.82" fill="#f8cc94" stroke="#b0b0b0" stroke-width="0.1"/>
<rect x="464.43" y="309.96" width="2.67" height="11.82" fill="#faf7d4" stroke="#b0b0b0" stroke-width="0.1"/>
<rect x="467.06" y="309.96" width="2.67" height="11.82" fill="#faf7d4" stroke="#b0b0b0" stroke-width="0.1"/>
<rect x="469.68" y="309.96" width="2.67" height="11.82" fill="#fbf0c3" stroke="#b0b0b0" stroke-width="0.1"/>
<rect x="472.30" y="309.96" width="2.67" height="11.82" fill="#fbf0c3" stroke="#b0b0b0" stroke-width="0.1"/>
<rect x="474.93" y="309.96" width="2.67" height="11.82" fill="#faf7d4" stroke="#b0b0b0" stroke-width="0.1"/>
<rect x="477.55" y="309.96" width="2.67" height="11.82" fill="#faf7d4" stroke="#b0b0b0" stroke-width="0.1"/>
<rect x="480.18" y="309.96" width="2.67" height="11.82" fill="#faf7d4" stroke="#b0b0b0" stroke-width="0.1"/>
<rect x="351.60" y="321.78" width="2.67" height="11.82" fill="#f6bc87" stroke="#b0b0b0" stroke-width="0.1"/>
<rect x="354.22" y="321.78" width="2.67" height="11.82" fill="#f6bc87" stroke="#b0b0b0" stroke-width="0.1"/>
<rect x="356.85" y="321.78" width="2.67" height="11.82" fill="#fbf3ca" stroke="#b0b0b0" stroke-width="0.1"/>
<rect x="359.47" y="321.78" width="2.67" height="11.82" fill="#fbf3ca" stroke="#b0b0b0" stroke-width="0.1"/>
<rect x="362.10" y="321.78" width="2.67" height="11.82" fill="#fbf3ca" stroke="#b0b0b0" stroke-width="0.1"/>
<rect x="364.72" y="321.78" width="2.67" height="11.82" fill="#fbf3ca" stroke="#b0b0b0" stroke-width="0.1"/>
<rect x="367.34" y="321.78" width="2.67" height="11.82" fill="#eef2e4" stroke="#b0b0b0" stroke-width="0.1"/>
<rect x="369.97" y="321.78" width="2.67" height="11.82" fill="#fbf3ca" stroke="#b0b0b0" stroke-width="0.1"/>
<rect x="372.59" y="321.78" width="2.67" height="11.82" fill="#fbf3ca" stroke="#b0b0b0" stroke-width="0.1"/>
<rect x="375.22" y="321.78" width="2.67" height="11.82" fill="#fae9b9" stroke="#b0b0b0" stroke-width="0.1"/>
<rect x="377.84" y="321.78" width="2.67" height="11.82" fill="#fbf3ca" stroke="#b0b0b0" stroke-width="0.1"/>
<rect x="380.46" y="321.78" width="2.67" height="11.82" fill="#fbf3ca" stroke="#b0b0b0" stroke-width="0.1"/>
<rect x="383.09" y="321.78" width="2.67" height="11.82" fill="#fae9b9" stroke="#b0b0b0" stroke-width="0.1"/>
<rect x="385.71" y="321.78" width="2.67" height="11.82" fill="#fbf3ca" stroke="#b0b0b0" stroke-width="0.1"/>
<rect x="388.34" y="321.78" width="2.67" height="11.82" fill="#fbf3ca" stroke="#b0b0b0" stroke-width="0.1"/>
<rect x="390.96" y="321.78" width="2.67" height="11.82" fill="#fbf3ca" stroke="#b0b0b0" stroke-width="0.1"/>
<rect x="393.58" y="321.78" width="2.67" height="11.82" fill="#fbf3ca" stroke="#b0b0b0" stroke-width="0.1"/>
<rect x="396.21" y="321.78" width="2.67" height="11.82" fill="#fbf3ca" stroke="#b0b0b0" stroke-width="0.1"/>
<rect x="398.83" y="321.78" width="2.67" height="11.82" fill="#becfe4" stroke="#b0b0b0" stroke-width="0.1"/>
<rect x="401.46" y="321.78" width="2.67" height="11.82" fill="#c5d5e7" stroke="#b0b0b0" stroke-width="0.1"/>
<rect x="404.08" y="321.78" width="2.67" height="11.82" fill="#fbf0c3" stroke="#b0b0b0" stroke-width="0.1"/>
<rect x="406.70" y="321.78" width="2.67" height="11.82" fill="#a4b8d6" stroke="#b0b0b0" stroke-width="0.1"/>
<rect x="409.33" y="321.78" width="2.67" height="11.82" fill="#7d91c0" stroke="#b0b0b0" stroke-width="0.1"/>
<rect x="411.95" y="321.78" width="2.67" height="11.82" fill="#c5d5e7" stroke="#b0b0b0" stroke-width="0.1"/>
<rect x="414.58" y="321.78" width="2.67" height="11.82" fill="#faf7d4" stroke="#b0b0b0" stroke-width="0.1"/>
<rect x="417.20" y="321.78" width="2.67" height="11.82" fill="#f9d49b" stroke="#b0b0b0" stroke-width="0.1"/>
<rect x="419.82" y="321.78" width="2.67" height="11.82" fill="#fae2af" stroke="#b0b0b0" stroke-width="0.1"/>
<rect x="422.45" y="321.78" width="2.67" height="11.82" fill="#faf4cc" stroke="#b0b0b0" stroke-width="0.1"/>
<rect x="425.07" y="321.78" width="2.67" height="11.82" fill="#faf4cc" stroke="#b0b0b0" stroke-width="0.1"/>
<rect x="427.70" y="321.78" width="2.67" height="11.82" fill="#aabdd9" stroke="#b0b0b0" stroke-width="0.1"/>
<rect x="430.32" y="321.78" width="2.67" height="11.82" fill="#aabdd9" stroke="#b0b0b0" stroke-width="0.1"/>
<rect x="432.94" y="321.78" width="2.67" height="11.82" fill="#c5d5e7" stroke="#b0b0b0" stroke-width="0.1"/>
<rect x="435.57" y="321.78" width="2.67" height="11.82" fill="#f4f5dc" stroke="#b0b0b0" stroke-width="0.1"/>
<rect x="438.19" y="321.78" width="2.67" height="11.82" fill="#7d91c0" stroke="#b0b0b0" stroke-width="0.1"/>
<rect x="440.82" y="321.78" width="2.67" height="11.82" fill="#b4c6df" stroke="#b0b0b0" stroke-width="0.1"/>
<rect x="443.44" y="321.78" width="2.67" height="11.82" fill="#94a8cd" stroke="#b0b0b0" stroke-width="0.1"/>
<rect x="446.06" y="321.78" width="2.67" height="11.82" fill="#94a8cd" stroke="#b0b0b0" stroke-width="0.1"/>
<rect x="448.69" y="321.78" width="2.67" height="11.82" fill="#899dc7" stroke="#b0b0b0" stroke-width="0.1"/>
<rect x="451.31" y="321.78" width="2.67" height="11.82" fill="#899dc7" stroke="#b0b0b0" stroke-width="0.1"/>
<rect x="453.94" y="321.78" width="2.67" height="11.82" fill="#c5d5e7" stroke="#b0b0b0" stroke-width="0.1"/>
<rect x="456.56" y="321.78" width="2.67" height="11.82" fill="#faf7d4" stroke="#b0b0b0" stroke-width="0.1"/>
<rect x="459.18" y="321.78" width="2.67" height="11.82" fill="#cddceb" stroke="#b0b0b0" stroke-width="0.1"/>
<rect x="461.81" y="321.78" width="2.67" height="11.82" fill="#fae9b9" stroke="#b0b0b0" stroke-width="0.1"/>
<rect x="464.43" y="321.78" width="2.67" height="11.82" fill="#d4e2ee" stroke="#b0b0b0" stroke-width="0.1"/>
<rect x="467.06" y="321.78" width="2.67" height="11.82" fill="#d4e2ee" stroke="#b0b0b0" stroke-width="0.1"/>
<rect x="469.68" y="321.78" width="2.67" height="11.82" fill="#d4e2ee" stroke="#b0b0b0" stroke-width="0.1"/>
<rect x="472.30" y="321.78" width="2.67" height="11.82" fill="#faf7d4" stroke="#b0b0b0" stroke-width="0.1"/>
<rect x="474.93" y="321.78" width="2.67" height="11.82" fill="#faf7d4" stroke="#b0b0b0" stroke-width="0.1"/>
<rect x="477.55" y="321.78" width="2.67" height="11.82" fill="#faf4cc" stroke="#b0b0b0" stroke-width="0.1"/>
<rect x="480.18" y="321.78" width="2.67" height="11.82" fill="#faf4cc" stroke="#b0b0b0" stroke-width="0.1"/>
<rect x="351.60" y="211.80" width="65.20" height="3.50" fill="#66c2a5" />
<rect x="417.70" y="211.80" width="2.17" height="3.50" fill="#e8827a" />
<rect x="419.82" y="211.80" width="2.67" height="3.50" fill="#e8827a" />
<rect x="422.45" y="211.80" width="2.67" height="3.50" fill="#e8827a" />
<rect x="425.07" y="211.80" width="2.67" height="3.50" fill="#66c2a5" />
<rect x="427.70" y="211.80" width="2.67" height="3.50" fill="#e8827a" />
<rect x="430.32" y="211.80" width="2.67" height="3.50" fill="#e8827a" />
<rect x="432.94" y="211.80" width="2.67" height="3.50" fill="#e8827a" />
<rect x="435.57" y="211.80" width="2.67" height="3.50" fill="#66c2a5" />
<rect x="438.19" y="211.80" width="2.67" height="3.50" fill="#e8827a" />
<rect x="440.82" y="211.80" width="2.67" height="3.50" fill="#e8827a" />
<rect x="443.44" y="211.80" width="2.67" height="3.50" fill="#e8827a" />
<rect x="446.06" y="211.80" width="2.67" height="3.50" fill="#e8827a" />
<rect x="448.69" y="211.80" width="2.67" height="3.50" fill="#e8827a" />
<rect x="451.31" y="211.80" width="2.67" height="3.50" fill="#e8827a" />
<rect x="453.94" y="211.80" width="2.67" height="3.50" fill="#e8827a" />
<rect x="456.56" y="211.80" width="2.67" height="3.50" fill="#e8827a" />
<rect x="459.18" y="211.80" width="2.67" height="3.50" fill="#e8827a" />
<rect x="461.81" y="211.80" width="2.67" height="3.50" fill="#e8827a" />
<rect x="464.43" y="211.80" width="2.67" height="3.50" fill="#e8827a" />
<rect x="467.06" y="211.80" width="2.67" height="3.50" fill="#e8827a" />
<rect x="469.68" y="211.80" width="2.67" height="3.50" fill="#e8827a" />
<rect x="472.30" y="211.80" width="2.67" height="3.50" fill="#e8827a" />
<rect x="474.93" y="211.80" width="2.67" height="3.50" fill="#e8827a" />
<rect x="477.55" y="211.80" width="2.67" height="3.50" fill="#e8827a" />
<rect x="480.18" y="211.80" width="2.67" height="3.50" fill="#e8827a" />
<text x="483.90" y="214.40" font-size="2.8" fill="#222" font-weight="bold" text-anchor="start" font-family="Liberation Sans" stroke="#222" stroke-width="0.08">Gender</text>
<text x="484.20" y="222.31" font-size="2.8" fill="#333" font-weight="normal" text-anchor="start" font-family="Liberation Sans" stroke="#333" stroke-width="0.08">APRT1</text>
<text x="484.20" y="234.13" font-size="2.8" fill="#333" font-weight="normal" text-anchor="start" font-family="Liberation Sans" stroke="#333" stroke-width="0.08">XIAP</text>
<text x="484.20" y="245.95" font-size="2.8" fill="#333" font-weight="normal" text-anchor="start" font-family="Liberation Sans" stroke="#333" stroke-width="0.08">AR</text>
<text x="484.20" y="257.77" font-size="2.8" fill="#333" font-weight="normal" text-anchor="start" font-family="Liberation Sans" stroke="#333" stroke-width="0.08">PSIP1</text>
<text x="484.20" y="269.59" font-size="2.8" fill="#333" font-weight="normal" text-anchor="start" font-family="Liberation Sans" stroke="#333" stroke-width="0.08">PPARG</text>
<text x="484.20" y="281.41" font-size="2.8" fill="#333" font-weight="normal" text-anchor="start" font-family="Liberation Sans" stroke="#333" stroke-width="0.08">TSC1</text>
<text x="484.20" y="293.23" font-size="2.8" fill="#333" font-weight="normal" text-anchor="start" font-family="Liberation Sans" stroke="#333" stroke-width="0.08">FOXP3</text>
<text x="484.20" y="305.05" font-size="2.8" fill="#333" font-weight="normal" text-anchor="start" font-family="Liberation Sans" stroke="#333" stroke-width="0.08">CLIC5</text>
<text x="484.20" y="316.87" font-size="2.8" fill="#333" font-weight="normal" text-anchor="start" font-family="Liberation Sans" stroke="#333" stroke-width="0.08">PCBP1</text>
<text x="484.20" y="328.69" font-size="2.8" fill="#333" font-weight="normal" text-anchor="start" font-family="Liberation Sans" stroke="#333" stroke-width="0.08">HMGA2</text>
<defs><linearGradient id="cb" x1="0" y1="0" x2="0" y2="1"><stop offset="0" stop-color="#a83a3a"/><stop offset="0.25" stop-color="#f08a5a"/><stop offset="0.5" stop-color="#fdf8c6"/><stop offset="0.75" stop-color="#93b4d6"/><stop offset="1" stop-color="#414c80"/></linearGradient></defs>
<rect x="495.10" y="212.00" width="2.00" height="33.20" fill="url(#cb)" />
<text x="498.60" y="220.60" font-size="2.7" fill="#333" font-weight="normal" text-anchor="start" font-family="Liberation Sans" stroke="#333" stroke-width="0.08">1.0</text>
<text x="498.60" y="229.50" font-size="2.7" fill="#333" font-weight="normal" text-anchor="start" font-family="Liberation Sans" stroke="#333" stroke-width="0.08">0</text>
<text x="498.60" y="238.80" font-size="2.7" fill="#333" font-weight="normal" text-anchor="start" font-family="Liberation Sans" stroke="#333" stroke-width="0.08">-0.5</text>
<text x="503.00" y="213.50" font-size="2.9" fill="#222" font-weight="bold" text-anchor="start" font-family="Liberation Sans" stroke="#333" stroke-width="0.08">Gender</text>
<rect x="503.00" y="215.30" width="3.80" height="2.80" fill="#66c2a5" />
<text x="507.40" y="217.60" font-size="2.8" fill="#333" font-weight="normal" text-anchor="start" font-family="Liberation Sans" stroke="#333" stroke-width="0.08">FEMALE</text>
<rect x="503.00" y="220.20" width="3.80" height="2.80" fill="#e8827a" />
<text x="507.40" y="222.50" font-size="2.8" fill="#333" font-weight="normal" text-anchor="start" font-family="Liberation Sans" stroke="#333" stroke-width="0.08">MALE</text>
<polyline points="377.60,205.50 377.60,199.90 431.60,199.90 431.60,203.70" stroke="#8a8a8a" stroke-width="0.4" fill="none"/>
<polyline points="356.00,208.00 356.00,205.50 397.80,205.50 397.80,207.60" stroke="#8a8a8a" stroke-width="0.4" fill="none"/>
<polyline points="422.30,207.30 422.30,203.70 440.30,203.70 440.30,207.30" stroke="#8a8a8a" stroke-width="0.4" fill="none"/>
<polyline points="354.13,209.47 354.13,208.00 359.33,208.00 359.33,209.47" stroke="#8a8a8a" stroke-width="0.35" fill="none"/>
<polyline points="353.18,210.83 353.18,209.47 355.71,209.47 355.71,210.83" stroke="#8a8a8a" stroke-width="0.35" fill="none"/>
<polyline points="352.40,211.50 352.40,210.83 353.98,210.83 353.98,211.50" stroke="#8a8a8a" stroke-width="0.35" fill="none"/>
<polyline points="357.74,210.89 357.74,209.47 360.41,209.47 360.41,210.89" stroke="#8a8a8a" stroke-width="0.35" fill="none"/>
<polyline points="359.68,211.50 359.68,210.89 361.27,210.89 361.27,211.50" stroke="#8a8a8a" stroke-width="0.35" fill="none"/>
<polyline points="365.59,209.56 365.59,208.40 375.09,208.40 375.09,209.56" stroke="#8a8a8a" stroke-width="0.35" fill="none"/>
<polyline points="363.36,211.20 363.36,209.56 366.95,209.56 366.95,211.20" stroke="#8a8a8a" stroke-width="0.35" fill="none"/>
<polyline points="365.96,211.50 365.96,211.20 368.20,211.20 368.20,211.50" stroke="#8a8a8a" stroke-width="0.35" fill="none"/>
<polyline points="372.99,211.20 372.99,209.56 378.90,209.56 378.90,211.20" stroke="#8a8a8a" stroke-width="0.35" fill="none"/>
<polyline points="371.27,211.50 371.27,211.20 375.07,211.20 375.07,211.50" stroke="#8a8a8a" stroke-width="0.35" fill="none"/>
<polyline points="377.64,211.50 377.64,211.20 379.73,211.20 379.73,211.50" stroke="#8a8a8a" stroke-width="0.35" fill="none"/>
<polyline points="385.07,209.07 385.07,208.20 393.07,208.20 393.07,209.07" stroke="#8a8a8a" stroke-width="0.35" fill="none"/>
<polyline points="382.66,210.16 382.66,209.07 386.72,209.07 386.72,210.16" stroke="#8a8a8a" stroke-width="0.35" fill="none"/>
<polyline points="381.59,211.50 381.59,210.16 383.25,210.16 383.25,211.50" stroke="#8a8a8a" stroke-width="0.35" fill="none"/>
<polyline points="385.47,211.50 385.47,210.16 387.89,210.16 387.89,211.50" stroke="#8a8a8a" stroke-width="0.35" fill="none"/>
<polyline points="391.12,210.64 391.12,209.07 395.06,209.07 395.06,210.64" stroke="#8a8a8a" stroke-width="0.35" fill="none"/>
<polyline points="390.13,211.50 390.13,210.64 392.12,210.64 392.12,211.50" stroke="#8a8a8a" stroke-width="0.35" fill="none"/>
<polyline points="394.06,211.50 394.06,210.64 396.00,210.64 396.00,211.50" stroke="#8a8a8a" stroke-width="0.35" fill="none"/>
<polyline points="403.46,209.59 403.46,207.60 413.41,207.60 413.41,209.59" stroke="#8a8a8a" stroke-width="0.35" fill="none"/>
<polyline points="400.89,211.20 400.89,209.59 407.35,209.59 407.35,211.20" stroke="#8a8a8a" stroke-width="0.35" fill="none"/>
<polyline points="398.73,211.50 398.73,211.20 402.62,211.20 402.62,211.50" stroke="#8a8a8a" stroke-width="0.35" fill="none"/>
<polyline points="405.90,211.50 405.90,211.20 408.47,211.20 408.47,211.50" stroke="#8a8a8a" stroke-width="0.35" fill="none"/>
<polyline points="411.94,210.88 411.94,209.59 415.43,209.59 415.43,210.88" stroke="#8a8a8a" stroke-width="0.35" fill="none"/>
<polyline points="411.14,211.50 411.14,210.88 413.17,210.88 413.17,211.50" stroke="#8a8a8a" stroke-width="0.35" fill="none"/>
<polyline points="420.55,209.12 420.55,207.30 424.55,207.30 424.55,209.12" stroke="#8a8a8a" stroke-width="0.35" fill="none"/>
<polyline points="418.89,210.17 418.89,209.12 421.44,209.12 421.44,210.17" stroke="#8a8a8a" stroke-width="0.35" fill="none"/>
<polyline points="420.82,211.50 420.82,210.17 422.47,210.17 422.47,211.50" stroke="#8a8a8a" stroke-width="0.35" fill="none"/>
<polyline points="430.51,209.08 430.51,207.80 437.51,207.80 437.51,209.08" stroke="#8a8a8a" stroke-width="0.35" fill="none"/>
<polyline points="427.68,210.63 427.68,209.08 432.19,209.08 432.19,210.63" stroke="#8a8a8a" stroke-width="0.35" fill="none"/>
<polyline points="426.98,211.50 426.98,210.63 428.66,210.63 428.66,211.50" stroke="#8a8a8a" stroke-width="0.35" fill="none"/>
<polyline points="430.42,211.50 430.42,210.63 433.25,210.63 433.25,211.50" stroke="#8a8a8a" stroke-width="0.35" fill="none"/>
<polyline points="436.61,210.79 436.61,209.08 439.10,209.08 439.10,210.79" stroke="#8a8a8a" stroke-width="0.35" fill="none"/>
<polyline points="435.63,211.50 435.63,210.79 437.22,210.79 437.22,211.50" stroke="#8a8a8a" stroke-width="0.35" fill="none"/>
<polyline points="444.18,208.17 444.18,207.30 455.18,207.30 455.18,208.17" stroke="#8a8a8a" stroke-width="0.35" fill="none"/>
<polyline points="442.46,209.19 442.46,208.17 446.65,208.17 446.65,209.19" stroke="#8a8a8a" stroke-width="0.35" fill="none"/>
<polyline points="441.28,211.50 441.28,209.19 443.74,209.19 443.74,211.50" stroke="#8a8a8a" stroke-width="0.35" fill="none"/>
<polyline points="445.63,211.50 445.63,209.19 447.35,209.19 447.35,211.50" stroke="#8a8a8a" stroke-width="0.35" fill="none"/>
<polyline points="451.02,209.74 451.02,208.17 457.84,208.17 457.84,209.74" stroke="#8a8a8a" stroke-width="0.35" fill="none"/>
<polyline points="449.39,211.50 449.39,209.74 452.04,209.74 452.04,211.50" stroke="#8a8a8a" stroke-width="0.35" fill="none"/>
<polyline points="455.40,211.50 455.40,209.74 459.56,209.74 459.56,211.50" stroke="#8a8a8a" stroke-width="0.35" fill="none"/>
<polyline points="468.67,209.66 468.67,207.90 479.07,207.90 479.07,209.66" stroke="#8a8a8a" stroke-width="0.35" fill="none"/>
<polyline points="464.94,211.20 464.94,209.66 471.61,209.66 471.61,211.20" stroke="#8a8a8a" stroke-width="0.35" fill="none"/>
<polyline points="463.22,211.50 463.22,211.20 466.16,211.20 466.16,211.50" stroke="#8a8a8a" stroke-width="0.35" fill="none"/>
<polyline points="470.15,211.50 470.15,211.20 473.87,211.20 473.87,211.50" stroke="#8a8a8a" stroke-width="0.35" fill="none"/>
<polyline points="476.76,211.20 476.76,209.66 480.49,209.66 480.49,211.20" stroke="#8a8a8a" stroke-width="0.35" fill="none"/>
<polyline points="479.13,211.50 479.13,211.20 481.44,211.20 481.44,211.50" stroke="#8a8a8a" stroke-width="0.35" fill="none"/>
<polyline points="366.00,208.40 366.00,207.60 389.00,207.60 389.00,208.20" stroke="#8a8a8a" stroke-width="0.4" fill="none"/>
<polyline points="356.00,208.00 356.00,208.00" stroke="#8a8a8a" stroke-width="0.3" fill="none"/>
<polyline points="397.80,207.60 407.00,207.60" stroke="#8a8a8a" stroke-width="0.35" fill="none"/>
<polyline points="440.30,207.30 440.30,207.30" stroke="#8a8a8a" stroke-width="0.3" fill="none"/>
<polyline points="430.00,207.80 430.00,207.30 471.00,207.30 471.00,207.90" stroke="#8a8a8a" stroke-width="0.4" fill="none"/>
<polyline points="419.40,209.00 419.40,207.30 424.40,207.30 424.40,209.00" stroke="#8a8a8a" stroke-width="0.4" fill="none"/>
<polyline points="351.40,221.00 349.40,221.00 349.40,232.90 351.40,232.90" stroke="#8a8a8a" stroke-width="0.4" fill="none"/>
<polyline points="349.40,227.00 339.20,227.00 339.20,290.00 340.20,290.00" stroke="#8a8a8a" stroke-width="0.4" fill="none"/>
<polyline points="351.40,244.70 346.90,244.70 346.90,256.60 351.40,256.60" stroke="#8a8a8a" stroke-width="0.4" fill="none"/>
<polyline points="346.90,250.60 341.00,250.60 341.00,282.00" stroke="#8a8a8a" stroke-width="0.4" fill="none"/>
<polyline points="351.40,268.40 348.50,268.40 348.50,280.20 351.40,280.20" stroke="#8a8a8a" stroke-width="0.4" fill="none"/>
<polyline points="348.50,274.30 344.80,274.30 344.80,300.00 347.00,300.00" stroke="#8a8a8a" stroke-width="0.4" fill="none"/>
<polyline points="351.40,292.00 348.00,292.00 348.00,303.90 351.40,303.90" stroke="#8a8a8a" stroke-width="0.4" fill="none"/>
<polyline points="351.40,315.80 347.50,315.80 347.50,327.60 351.40,327.60" stroke="#8a8a8a" stroke-width="0.4" fill="none"/>
<polyline points="348.00,298.00 346.20,298.00 346.20,321.70 347.50,321.70" stroke="#8a8a8a" stroke-width="0.4" fill="none"/>
<polyline points="341.00,266.00 339.20,266.00" stroke="#8a8a8a" stroke-width="0.4" fill="none"/>
</svg></body></html>
